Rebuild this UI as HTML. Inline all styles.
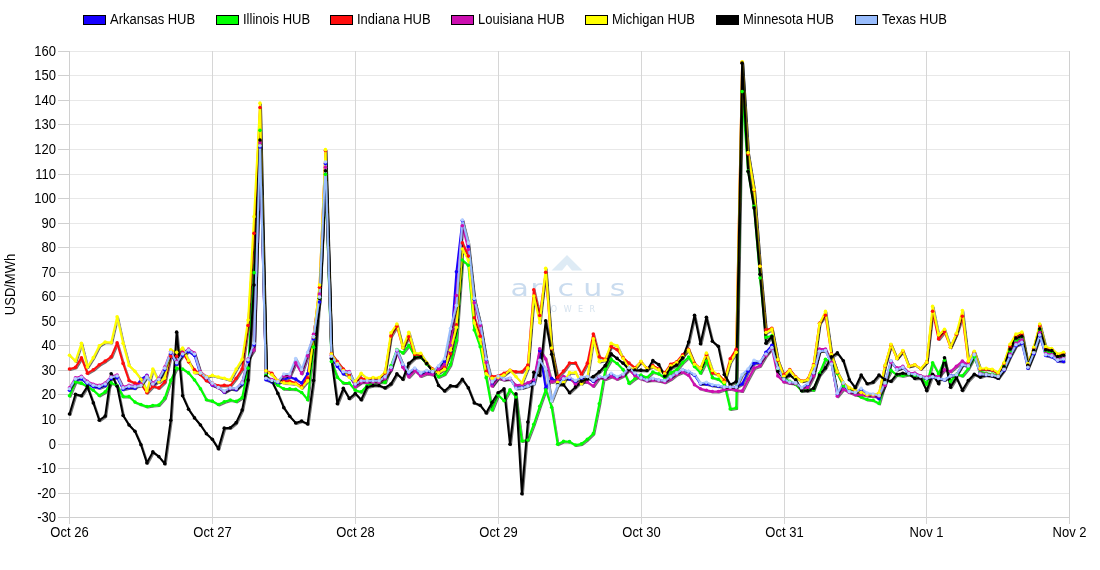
<!DOCTYPE html><html><head><meta charset="utf-8"><style>html,body{margin:0;padding:0;background:#fff;width:1100px;height:570px;overflow:hidden}svg{display:block}text{font-family:"Liberation Sans",Arial,sans-serif;font-size:13px;fill:#000}</style></head><body>
<svg width="1100" height="570" viewBox="0 0 1100 570">
<defs><filter id="sh" x="-5%" y="-5%" width="110%" height="110%"><feDropShadow dx="1" dy="1" stdDeviation="0.4" flood-color="#000" flood-opacity="0.55"/></filter></defs>
<rect width="1100" height="570" fill="#fff"/>
<line x1="70" y1="51.5" x2="1069" y2="51.5" stroke="#e8e8e8" stroke-width="1"/>
<line x1="58" y1="51.5" x2="69" y2="51.5" stroke="#d0d0d0" stroke-width="1"/>
<text transform="translate(56,56) scale(1,1.08)" text-anchor="end">160</text>
<line x1="70" y1="75.5" x2="1069" y2="75.5" stroke="#e8e8e8" stroke-width="1"/>
<line x1="58" y1="75.5" x2="69" y2="75.5" stroke="#d0d0d0" stroke-width="1"/>
<text transform="translate(56,80) scale(1,1.08)" text-anchor="end">150</text>
<line x1="70" y1="100.5" x2="1069" y2="100.5" stroke="#e8e8e8" stroke-width="1"/>
<line x1="58" y1="100.5" x2="69" y2="100.5" stroke="#d0d0d0" stroke-width="1"/>
<text transform="translate(56,105) scale(1,1.08)" text-anchor="end">140</text>
<line x1="70" y1="124.5" x2="1069" y2="124.5" stroke="#e8e8e8" stroke-width="1"/>
<line x1="58" y1="124.5" x2="69" y2="124.5" stroke="#d0d0d0" stroke-width="1"/>
<text transform="translate(56,129) scale(1,1.08)" text-anchor="end">130</text>
<line x1="70" y1="149.5" x2="1069" y2="149.5" stroke="#e8e8e8" stroke-width="1"/>
<line x1="58" y1="149.5" x2="69" y2="149.5" stroke="#d0d0d0" stroke-width="1"/>
<text transform="translate(56,154) scale(1,1.08)" text-anchor="end">120</text>
<line x1="70" y1="174.5" x2="1069" y2="174.5" stroke="#e8e8e8" stroke-width="1"/>
<line x1="58" y1="174.5" x2="69" y2="174.5" stroke="#d0d0d0" stroke-width="1"/>
<text transform="translate(56,179) scale(1,1.08)" text-anchor="end">110</text>
<line x1="70" y1="198.5" x2="1069" y2="198.5" stroke="#e8e8e8" stroke-width="1"/>
<line x1="58" y1="198.5" x2="69" y2="198.5" stroke="#d0d0d0" stroke-width="1"/>
<text transform="translate(56,203) scale(1,1.08)" text-anchor="end">100</text>
<line x1="70" y1="223.5" x2="1069" y2="223.5" stroke="#e8e8e8" stroke-width="1"/>
<line x1="58" y1="223.5" x2="69" y2="223.5" stroke="#d0d0d0" stroke-width="1"/>
<text transform="translate(56,228) scale(1,1.08)" text-anchor="end">90</text>
<line x1="70" y1="247.5" x2="1069" y2="247.5" stroke="#e8e8e8" stroke-width="1"/>
<line x1="58" y1="247.5" x2="69" y2="247.5" stroke="#d0d0d0" stroke-width="1"/>
<text transform="translate(56,252) scale(1,1.08)" text-anchor="end">80</text>
<line x1="70" y1="272.5" x2="1069" y2="272.5" stroke="#e8e8e8" stroke-width="1"/>
<line x1="58" y1="272.5" x2="69" y2="272.5" stroke="#d0d0d0" stroke-width="1"/>
<text transform="translate(56,277) scale(1,1.08)" text-anchor="end">70</text>
<line x1="70" y1="296.5" x2="1069" y2="296.5" stroke="#e8e8e8" stroke-width="1"/>
<line x1="58" y1="296.5" x2="69" y2="296.5" stroke="#d0d0d0" stroke-width="1"/>
<text transform="translate(56,301) scale(1,1.08)" text-anchor="end">60</text>
<line x1="70" y1="321.5" x2="1069" y2="321.5" stroke="#e8e8e8" stroke-width="1"/>
<line x1="58" y1="321.5" x2="69" y2="321.5" stroke="#d0d0d0" stroke-width="1"/>
<text transform="translate(56,326) scale(1,1.08)" text-anchor="end">50</text>
<line x1="70" y1="345.5" x2="1069" y2="345.5" stroke="#e8e8e8" stroke-width="1"/>
<line x1="58" y1="345.5" x2="69" y2="345.5" stroke="#d0d0d0" stroke-width="1"/>
<text transform="translate(56,350) scale(1,1.08)" text-anchor="end">40</text>
<line x1="70" y1="370.5" x2="1069" y2="370.5" stroke="#e8e8e8" stroke-width="1"/>
<line x1="58" y1="370.5" x2="69" y2="370.5" stroke="#d0d0d0" stroke-width="1"/>
<text transform="translate(56,375) scale(1,1.08)" text-anchor="end">30</text>
<line x1="70" y1="394.5" x2="1069" y2="394.5" stroke="#e8e8e8" stroke-width="1"/>
<line x1="58" y1="394.5" x2="69" y2="394.5" stroke="#d0d0d0" stroke-width="1"/>
<text transform="translate(56,399) scale(1,1.08)" text-anchor="end">20</text>
<line x1="70" y1="419.5" x2="1069" y2="419.5" stroke="#e8e8e8" stroke-width="1"/>
<line x1="58" y1="419.5" x2="69" y2="419.5" stroke="#d0d0d0" stroke-width="1"/>
<text transform="translate(56,424) scale(1,1.08)" text-anchor="end">10</text>
<line x1="70" y1="444.5" x2="1069" y2="444.5" stroke="#e8e8e8" stroke-width="1"/>
<line x1="58" y1="444.5" x2="69" y2="444.5" stroke="#d0d0d0" stroke-width="1"/>
<text transform="translate(56,449) scale(1,1.08)" text-anchor="end">0</text>
<line x1="70" y1="468.5" x2="1069" y2="468.5" stroke="#e8e8e8" stroke-width="1"/>
<line x1="58" y1="468.5" x2="69" y2="468.5" stroke="#d0d0d0" stroke-width="1"/>
<text transform="translate(56,473) scale(1,1.08)" text-anchor="end">-10</text>
<line x1="70" y1="493.5" x2="1069" y2="493.5" stroke="#e8e8e8" stroke-width="1"/>
<line x1="58" y1="493.5" x2="69" y2="493.5" stroke="#d0d0d0" stroke-width="1"/>
<text transform="translate(56,498) scale(1,1.08)" text-anchor="end">-20</text>
<line x1="70" y1="517.5" x2="1069" y2="517.5" stroke="#d0d0d0" stroke-width="1"/>
<line x1="58" y1="517.5" x2="69" y2="517.5" stroke="#d0d0d0" stroke-width="1"/>
<text transform="translate(56,522) scale(1,1.08)" text-anchor="end">-30</text>
<line x1="69.5" y1="51" x2="69.5" y2="524" stroke="#d0d0d0" stroke-width="1"/>
<text transform="translate(69.5,537) scale(1,1.08)" text-anchor="middle">Oct 26</text>
<line x1="212.5" y1="51" x2="212.5" y2="524" stroke="#d6d6d6" stroke-width="1"/>
<text transform="translate(212.5,537) scale(1,1.08)" text-anchor="middle">Oct 27</text>
<line x1="355.5" y1="51" x2="355.5" y2="524" stroke="#d6d6d6" stroke-width="1"/>
<text transform="translate(355.5,537) scale(1,1.08)" text-anchor="middle">Oct 28</text>
<line x1="498.5" y1="51" x2="498.5" y2="524" stroke="#d6d6d6" stroke-width="1"/>
<text transform="translate(498.5,537) scale(1,1.08)" text-anchor="middle">Oct 29</text>
<line x1="641.5" y1="51" x2="641.5" y2="524" stroke="#d6d6d6" stroke-width="1"/>
<text transform="translate(641.5,537) scale(1,1.08)" text-anchor="middle">Oct 30</text>
<line x1="784.5" y1="51" x2="784.5" y2="524" stroke="#d6d6d6" stroke-width="1"/>
<text transform="translate(784.5,537) scale(1,1.08)" text-anchor="middle">Oct 31</text>
<line x1="926.5" y1="51" x2="926.5" y2="524" stroke="#d6d6d6" stroke-width="1"/>
<text transform="translate(926.5,537) scale(1,1.08)" text-anchor="middle">Nov 1</text>
<line x1="1069.5" y1="51" x2="1069.5" y2="524" stroke="#d0d0d0" stroke-width="1"/>
<text transform="translate(1069.5,537) scale(1,1.08)" text-anchor="middle">Nov 2</text>
<text transform="translate(14.5,284.5) rotate(-90) scale(1,1.08)" text-anchor="middle">USD/MWh</text>
<rect x="83.5" y="15.5" width="22" height="9" fill="#1600ff" stroke="#000" stroke-width="1"/>
<text transform="translate(110,24) scale(1,1.08)">Arkansas HUB</text>
<rect x="216.5" y="15.5" width="22" height="9" fill="#00ff00" stroke="#000" stroke-width="1"/>
<text transform="translate(243,24) scale(1,1.08)">Illinois HUB</text>
<rect x="330.5" y="15.5" width="22" height="9" fill="#ff0d0d" stroke="#000" stroke-width="1"/>
<text transform="translate(357,24) scale(1,1.08)">Indiana HUB</text>
<rect x="451.5" y="15.5" width="22" height="9" fill="#cc0fb0" stroke="#000" stroke-width="1"/>
<text transform="translate(478,24) scale(1,1.08)">Louisiana HUB</text>
<rect x="585.5" y="15.5" width="22" height="9" fill="#ffff00" stroke="#000" stroke-width="1"/>
<text transform="translate(612,24) scale(1,1.08)">Michigan HUB</text>
<rect x="716.5" y="15.5" width="22" height="9" fill="#000000" stroke="#000" stroke-width="1"/>
<text transform="translate(743,24) scale(1,1.08)">Minnesota HUB</text>
<rect x="855.5" y="15.5" width="22" height="9" fill="#98bcfc" stroke="#000" stroke-width="1"/>
<text transform="translate(882,24) scale(1,1.08)">Texas HUB</text>
<g fill="#deebf5" stroke="none"><path d="M567 255 L582.5 270.5 L572 270.5 L567 264.5 L562 270.5 L551.5 270.5 Z"/></g>
<text transform="translate(519.6,296) scale(1.28,1)" text-anchor="middle" style="font-family:'DejaVu Sans',sans-serif;font-size:23.5px;fill:#cadcef">a</text>
<text transform="translate(536.5,296) scale(1.28,1)" text-anchor="middle" style="font-family:'DejaVu Sans',sans-serif;font-size:23.5px;fill:#cadcef">r</text>
<text transform="translate(565.8,296) scale(1.28,1)" text-anchor="middle" style="font-family:'DejaVu Sans',sans-serif;font-size:23.5px;fill:#cadcef">c</text>
<text transform="translate(592.7,296) scale(1.28,1)" text-anchor="middle" style="font-family:'DejaVu Sans',sans-serif;font-size:23.5px;fill:#cadcef">u</text>
<text transform="translate(617.7,296) scale(1.28,1)" text-anchor="middle" style="font-family:'DejaVu Sans',sans-serif;font-size:23.5px;fill:#cadcef">s</text>
<text x="541" y="311.5" text-anchor="middle" style="font-family:'DejaVu Sans',sans-serif;font-size:8px;fill:#d5e2ee">P</text>
<text x="553.8" y="311.5" text-anchor="middle" style="font-family:'DejaVu Sans',sans-serif;font-size:8px;fill:#d5e2ee">O</text>
<text x="567.6" y="311.5" text-anchor="middle" style="font-family:'DejaVu Sans',sans-serif;font-size:8px;fill:#d5e2ee">W</text>
<text x="580.5" y="311.5" text-anchor="middle" style="font-family:'DejaVu Sans',sans-serif;font-size:8px;fill:#d5e2ee">E</text>
<text x="592.4" y="311.5" text-anchor="middle" style="font-family:'DejaVu Sans',sans-serif;font-size:8px;fill:#d5e2ee">R</text>
<polyline filter="url(#sh)" points="69.50,390.19 75.45,380.40 81.40,378.82 87.36,383.87 93.31,386.71 99.26,387.82 105.21,385.45 111.17,378.82 117.12,377.56 123.07,389.40 129.02,387.82 134.98,388.29 140.93,379.21 146.88,375.27 152.83,385.45 158.79,380.71 164.74,369.66 170.69,353.87 176.64,364.13 182.60,355.45 188.55,351.50 194.50,355.45 200.45,374.40 206.40,379.14 212.36,385.26 218.31,387.46 224.26,392.28 230.21,388.77 236.17,389.65 242.12,383.95 248.07,361.58 254.02,345.00 259.98,147.02 265.93,379.75 271.88,381.94 277.83,383.25 283.79,380.00 289.74,376.93 295.69,379.12 301.64,383.07 307.60,373.86 313.55,338.89 319.50,302.05 325.45,163.43 331.40,358.07 337.36,366.40 343.31,373.86 349.26,376.05 355.21,385.26 361.17,381.58 367.12,381.58 373.07,381.58 379.02,381.58 384.98,377.63 390.93,368.95 396.88,350.79 402.83,365.00 408.79,372.90 414.74,368.95 420.69,373.69 426.64,371.32 432.60,372.90 438.55,366.71 444.50,361.71 450.45,351.71 456.40,271.84 462.36,220.53 468.31,246.84 474.26,299.30 480.21,323.86 486.17,359.82 492.12,385.06 498.07,377.69 504.02,379.27 509.98,378.48 515.93,387.63 521.88,387.63 527.83,385.58 533.79,382.90 539.74,350.79 545.69,388.29 551.64,378.42 557.60,382.11 563.55,378.95 569.50,378.95 575.45,381.32 581.40,378.16 587.36,377.37 593.31,381.32 599.26,377.06 605.21,377.84 611.17,374.21 617.12,377.37 623.07,374.69 629.02,368.37 634.98,374.69 640.93,376.32 646.88,380.32 652.83,378.74 658.79,380.32 664.74,381.11 670.69,377.16 676.64,373.21 682.60,370.06 688.55,371.64 694.50,375.27 700.45,383.95 706.40,383.95 712.36,385.53 718.31,386.32 724.26,387.11 730.21,387.11 736.17,387.11 742.12,383.95 748.07,371.32 754.02,363.42 759.98,362.63 765.93,352.37 771.88,345.27 777.83,368.95 783.79,379.87 789.74,382.58 795.69,383.21 801.64,387.95 807.60,384.48 813.55,373.42 819.50,351.00 825.45,350.37 831.40,363.63 837.36,394.74 843.31,384.48 849.26,392.06 855.21,393.16 861.17,390.00 867.12,393.95 873.07,394.74 879.02,398.69 884.98,383.69 890.93,361.11 896.88,369.48 902.83,367.42 908.79,373.74 914.74,374.53 920.69,376.73 926.64,378.50 932.60,376.89 938.55,378.52 944.50,379.83 950.45,375.75 956.40,374.93 962.36,364.82 968.31,366.29 974.26,355.03 980.21,374.45 986.17,375.26 992.12,375.75 998.07,378.20 1004.02,370.04 1009.98,356.72 1015.93,345.67 1021.88,343.22 1027.83,368.14 1033.79,353.65 1039.74,335.85 1045.69,355.49 1051.64,356.72 1057.60,361.02 1063.55,361.39" fill="none" stroke="#1600ff" stroke-width="2" stroke-linejoin="round" stroke-linecap="round"/>
<polyline filter="url(#sh)" points="69.50,395.79 75.45,381.89 81.40,383.16 87.36,386.32 93.31,390.26 99.26,395.47 105.21,391.84 111.17,382.84 117.12,385.53 123.07,396.58 129.02,396.58 134.98,402.11 140.93,404.47 146.88,406.53 152.83,405.58 158.79,404.95 164.74,398.16 170.69,380.40 176.64,368.16 182.60,368.95 188.55,372.90 194.50,380.00 200.45,388.69 206.40,399.74 212.36,401.09 218.31,404.47 224.26,401.80 230.21,399.96 236.17,401.40 242.12,397.63 248.07,368.16 254.02,272.67 259.98,130.35 265.93,375.18 271.88,380.44 277.83,385.26 283.79,388.77 289.74,388.89 295.69,389.18 301.64,392.46 307.60,399.74 313.55,347.15 319.50,298.33 325.45,174.34 331.40,361.58 337.36,377.37 343.31,383.07 349.26,383.07 355.21,390.22 361.17,391.85 367.12,385.53 373.07,383.16 379.02,382.37 384.98,382.37 390.93,365.79 396.88,349.47 402.83,352.98 408.79,345.40 414.74,355.79 420.69,357.11 426.64,364.21 432.60,369.74 438.55,376.84 444.50,374.12 450.45,364.61 456.40,340.53 462.36,260.00 468.31,265.26 474.26,330.00 480.21,346.67 486.17,377.63 492.12,409.87 498.07,394.87 504.02,400.66 509.98,389.74 515.93,396.98 521.88,441.05 527.83,440.00 533.79,424.21 539.74,406.32 545.69,389.74 551.64,407.37 557.60,444.21 563.55,441.33 569.50,441.63 575.45,445.03 581.40,443.90 587.36,439.34 593.31,433.64 599.26,403.73 605.21,369.67 611.17,359.41 617.12,363.49 623.07,369.67 629.02,383.27 634.98,378.57 640.93,375.08 646.88,377.54 652.83,372.01 658.79,373.85 664.74,377.64 670.69,372.90 676.64,369.74 682.60,362.63 688.55,357.11 694.50,366.58 700.45,372.90 706.40,361.06 712.36,377.64 718.31,379.21 724.26,383.95 730.21,409.01 736.17,407.91 742.12,91.58 748.07,171.05 754.02,206.31 759.98,277.99 765.93,337.36 771.88,335.78 777.83,369.74 783.79,378.16 789.74,381.32 795.69,384.48 801.64,390.79 807.60,389.21 813.55,390.00 819.50,373.42 825.45,359.21 831.40,362.37 837.36,373.42 843.31,386.06 849.26,388.42 855.21,393.95 861.17,397.11 867.12,399.48 873.07,400.27 879.02,403.43 884.98,382.90 890.93,370.27 896.88,375.00 902.83,375.71 908.79,374.61 914.74,375.31 920.69,376.24 926.64,384.09 932.60,362.71 938.55,373.85 944.50,360.26 950.45,381.61 956.40,374.36 962.36,375.69 968.31,368.33 974.26,357.09 980.21,371.81 986.17,373.30 992.12,374.12 998.07,374.93 1004.02,365.96 1009.98,351.57 1015.93,341.13 1021.88,338.67 1027.83,366.05 1033.79,351.32 1039.74,330.08 1045.69,351.57 1051.64,352.79 1057.60,357.09 1063.55,355.86" fill="none" stroke="#00ff00" stroke-width="2" stroke-linejoin="round" stroke-linecap="round"/>
<polyline filter="url(#sh)" points="69.50,368.95 75.45,367.37 81.40,357.90 87.36,373.21 93.31,369.74 99.26,364.69 105.21,361.06 111.17,356.79 117.12,342.90 123.07,363.42 129.02,380.48 134.98,383.16 140.93,383.95 146.88,392.64 152.83,386.32 158.79,387.90 164.74,382.06 170.69,356.32 176.64,356.32 182.60,352.37 188.55,361.85 194.50,369.74 200.45,374.48 206.40,380.79 212.36,383.07 218.31,385.70 224.26,385.26 230.21,385.70 236.17,378.25 242.12,369.04 248.07,325.53 254.02,233.33 259.98,107.54 265.93,370.82 271.88,373.28 277.83,381.32 283.79,381.32 289.74,381.32 295.69,383.07 301.64,386.58 307.60,377.81 313.55,336.44 319.50,287.32 325.45,150.53 331.40,353.63 337.36,361.58 343.31,369.04 349.26,374.74 355.21,382.76 361.17,378.42 367.12,379.21 373.07,378.42 379.02,378.42 384.98,372.90 390.93,335.88 396.88,326.23 402.83,347.72 408.79,336.75 414.74,354.74 420.69,354.74 426.64,363.42 432.60,368.95 438.55,372.11 444.50,367.15 450.45,353.82 456.40,324.74 462.36,242.89 468.31,256.05 474.26,317.72 480.21,336.14 486.17,371.23 492.12,376.59 498.07,375.79 504.02,373.42 509.98,370.27 515.93,371.84 521.88,371.84 527.83,365.00 533.79,289.82 539.74,315.53 545.69,272.28 551.64,348.72 557.60,377.24 563.55,371.05 569.50,363.03 575.45,363.03 581.40,374.21 587.36,363.16 593.31,333.95 599.26,356.84 605.21,359.21 611.17,346.58 617.12,349.74 623.07,357.63 629.02,363.11 634.98,367.71 640.93,361.70 646.88,368.33 652.83,365.56 658.79,368.94 664.74,372.90 670.69,364.21 676.64,361.85 682.60,354.74 688.55,349.21 694.50,363.42 700.45,368.16 706.40,354.74 712.36,372.90 718.31,374.48 724.26,380.79 730.21,358.69 736.17,349.21 742.12,62.37 748.07,153.95 754.02,190.00 759.98,266.31 765.93,329.86 771.88,328.28 777.83,360.27 783.79,374.74 789.74,369.48 795.69,376.90 801.64,381.00 807.60,379.42 813.55,364.74 819.50,323.21 825.45,315.31 831.40,354.16 837.36,372.16 843.31,383.21 849.26,387.95 855.21,390.48 861.17,392.69 867.12,395.21 873.07,395.21 879.02,393.64 884.98,365.84 890.93,344.69 896.88,358.42 902.83,351.00 908.79,366.32 914.74,364.74 920.69,368.69 926.64,362.13 932.60,311.31 938.55,339.05 944.50,331.70 950.45,347.20 956.40,334.15 962.36,316.21 968.31,361.88 974.26,352.10 980.21,369.23 986.17,369.23 992.12,370.04 998.07,373.30 1004.02,363.52 1009.98,346.65 1015.93,336.83 1021.88,334.38 1027.83,364.46 1033.79,348.13 1039.74,325.78 1045.69,348.50 1051.64,349.36 1057.60,354.88 1063.55,353.41" fill="none" stroke="#ff0d0d" stroke-width="2" stroke-linejoin="round" stroke-linecap="round"/>
<polyline filter="url(#sh)" points="69.50,387.69 75.45,377.90 81.40,376.32 87.36,381.37 93.31,384.21 99.26,385.32 105.21,382.95 111.17,376.32 117.12,375.06 123.07,386.90 129.02,385.32 134.98,385.79 140.93,384.53 146.88,375.85 152.83,382.95 158.79,378.21 164.74,367.16 170.69,351.37 176.64,361.63 182.60,352.95 188.55,349.00 194.50,352.95 200.45,371.90 206.40,376.64 212.36,384.82 218.31,387.63 224.26,391.84 230.21,388.33 236.17,388.77 242.12,382.19 248.07,358.95 254.02,350.00 259.98,142.63 265.93,377.25 271.88,379.44 277.83,380.75 283.79,376.05 289.74,376.05 295.69,362.89 301.64,373.42 307.60,355.88 313.55,334.33 319.50,294.00 325.45,167.19 331.40,355.32 337.36,363.21 343.31,370.67 349.26,371.54 355.21,386.71 361.17,382.37 367.12,382.37 373.07,382.37 379.02,382.37 384.98,378.42 390.93,369.74 396.88,350.79 402.83,367.37 408.79,376.84 414.74,370.53 420.69,376.05 426.64,373.69 432.60,374.48 438.55,368.95 444.50,364.61 450.45,345.22 456.40,295.48 462.36,225.79 468.31,249.47 474.26,302.81 480.21,325.61 486.17,362.46 492.12,386.05 498.07,378.16 504.02,379.74 509.98,378.95 515.93,385.27 521.88,384.48 527.83,382.90 533.79,379.74 539.74,348.82 545.69,359.08 551.64,381.98 557.60,380.53 563.55,376.58 569.50,377.37 575.45,384.48 581.40,382.11 587.36,382.11 593.31,386.06 599.26,377.37 605.21,378.95 611.17,376.58 617.12,378.95 623.07,375.79 629.02,369.48 634.98,375.79 640.93,378.69 646.88,380.79 652.83,380.00 658.79,380.79 664.74,382.37 670.69,379.21 676.64,374.48 682.60,372.11 688.55,375.27 694.50,384.74 700.45,388.69 706.40,390.27 712.36,391.53 718.31,391.53 724.26,389.48 730.21,388.69 736.17,390.27 742.12,391.06 748.07,379.21 754.02,368.16 759.98,365.79 765.93,355.53 771.88,348.42 777.83,376.06 783.79,381.85 789.74,382.90 795.69,383.69 801.64,388.42 807.60,387.64 813.55,375.79 819.50,348.95 825.45,348.95 831.40,362.37 837.36,396.32 843.31,389.21 849.26,392.37 855.21,394.74 861.17,394.74 867.12,395.53 873.07,396.32 879.02,396.32 884.98,385.27 890.93,362.37 896.88,367.90 902.83,366.37 908.79,372.68 914.74,372.99 920.69,375.72 926.64,377.14 932.60,374.87 938.55,376.71 944.50,369.76 950.45,371.40 956.40,366.19 962.36,360.98 968.31,365.06 974.26,353.42 980.21,373.30 986.17,374.12 992.12,374.93 998.07,376.57 1004.02,369.23 1009.98,354.02 1015.93,342.97 1021.88,339.90 1027.83,366.54 1033.79,352.18 1039.74,332.54 1045.69,353.41 1051.64,354.63 1057.60,358.93 1063.55,357.70" fill="none" stroke="#cc0fb0" stroke-width="2" stroke-linejoin="round" stroke-linecap="round"/>
<polyline filter="url(#sh)" points="69.50,355.21 75.45,361.06 81.40,343.21 87.36,367.06 93.31,357.58 99.26,345.74 105.21,341.95 111.17,342.58 117.12,316.84 123.07,343.37 129.02,365.48 134.98,371.32 140.93,379.21 146.88,391.06 152.83,368.95 158.79,382.06 164.74,378.11 170.69,349.69 176.64,352.37 182.60,347.95 188.55,360.58 194.50,372.58 200.45,372.90 206.40,376.85 212.36,375.38 218.31,376.93 224.26,378.25 230.21,380.00 236.17,369.04 242.12,359.39 248.07,320.00 254.02,216.67 259.98,103.16 265.93,370.79 271.88,374.74 277.83,380.88 283.79,382.89 289.74,383.25 295.69,383.95 301.64,387.89 307.60,380.88 313.55,337.02 319.50,285.00 325.45,149.65 331.40,353.95 337.36,363.45 343.31,370.53 349.26,377.33 355.21,381.23 361.17,373.21 367.12,378.42 373.07,377.63 379.02,377.63 384.98,372.11 390.93,332.81 396.88,324.04 402.83,347.72 408.79,332.37 414.74,352.98 420.69,353.42 426.64,362.63 432.60,369.74 438.55,372.90 444.50,369.21 450.45,350.13 456.40,327.37 462.36,248.95 468.31,260.00 474.26,322.98 480.21,339.65 486.17,373.86 492.12,378.31 498.07,377.37 504.02,375.00 509.98,370.27 515.93,376.58 521.88,382.90 527.83,368.16 533.79,295.96 539.74,322.63 545.69,268.33 551.64,348.03 557.60,382.37 563.55,382.37 569.50,372.63 575.45,372.50 581.40,383.69 587.36,377.37 593.31,338.68 599.26,361.58 605.21,360.00 611.17,343.42 617.12,345.79 623.07,358.42 629.02,367.90 634.98,368.63 640.93,361.27 646.88,368.63 652.83,366.79 658.79,369.86 664.74,373.69 670.69,365.79 676.64,362.63 682.60,356.32 688.55,350.00 694.50,364.21 700.45,368.16 706.40,353.16 712.36,370.53 718.31,375.27 724.26,382.37 730.21,361.85 736.17,352.37 742.12,61.84 748.07,152.63 754.02,189.47 759.98,266.31 765.93,332.62 771.88,329.07 777.83,359.48 783.79,376.32 789.74,370.27 795.69,377.37 801.64,381.32 807.60,379.74 813.55,365.53 819.50,323.68 825.45,311.38 831.40,354.48 837.36,371.85 843.31,382.90 849.26,387.64 855.21,390.00 861.17,392.37 867.12,394.74 873.07,394.74 879.02,393.16 884.98,365.53 890.93,344.21 896.88,358.42 902.83,350.53 908.79,366.32 914.74,364.74 920.69,368.55 926.64,362.13 932.60,306.42 938.55,334.97 944.50,329.26 950.45,347.20 956.40,333.34 962.36,310.50 968.31,361.07 974.26,351.28 980.21,368.41 986.17,368.41 992.12,369.23 998.07,372.49 1004.02,362.70 1009.98,344.20 1015.93,334.13 1021.88,332.17 1027.83,363.60 1033.79,347.27 1039.74,323.94 1045.69,346.65 1051.64,348.50 1057.60,354.02 1063.55,352.18" fill="none" stroke="#ffff00" stroke-width="2" stroke-linejoin="round" stroke-linecap="round"/>
<polyline filter="url(#sh)" points="69.50,413.95 75.45,394.21 81.40,395.79 87.36,386.63 93.31,402.90 99.26,420.27 105.21,416.00 111.17,373.69 117.12,386.32 123.07,415.53 129.02,425.00 134.98,431.32 140.93,444.74 146.88,462.90 152.83,451.85 158.79,456.58 164.74,463.69 170.69,420.27 176.64,332.16 182.60,395.79 188.55,409.21 194.50,417.90 200.45,425.00 206.40,433.69 212.36,439.37 218.31,448.69 224.26,428.16 230.21,427.69 236.17,422.63 242.12,410.00 248.07,380.00 254.02,285.00 259.98,140.00 265.93,376.49 271.88,381.32 277.83,393.42 283.79,407.63 289.74,416.32 295.69,422.95 301.64,421.05 307.60,423.90 313.55,380.44 319.50,298.33 325.45,170.70 331.40,358.54 337.36,403.69 343.31,388.33 349.26,398.42 355.21,393.51 361.17,399.74 367.12,387.11 373.07,385.53 379.02,385.53 384.98,387.90 390.93,383.95 396.88,373.69 402.83,379.21 408.79,363.42 414.74,357.90 420.69,357.11 426.64,363.42 432.60,371.32 438.55,385.53 444.50,391.06 450.45,385.84 456.40,386.32 462.36,379.21 468.31,387.90 474.26,402.90 480.21,405.27 486.17,412.90 492.12,402.24 498.07,392.76 504.02,388.84 509.98,444.21 515.93,393.68 521.88,493.68 527.83,422.11 533.79,372.37 539.74,375.53 545.69,320.74 551.64,354.21 557.60,384.74 563.55,384.74 569.50,392.64 575.45,387.11 581.40,381.32 587.36,378.95 593.31,376.58 599.26,371.84 605.21,365.53 611.17,353.69 617.12,358.42 623.07,363.16 629.02,369.48 634.98,370.17 640.93,370.17 646.88,370.48 652.83,360.65 658.79,364.64 664.74,376.31 670.69,368.16 676.64,365.00 682.60,357.90 688.55,342.11 694.50,315.26 700.45,343.69 706.40,317.32 712.36,341.32 718.31,346.37 724.26,374.48 730.21,384.74 736.17,381.58 742.12,63.16 748.07,171.58 754.02,207.89 759.98,274.20 765.93,343.28 771.88,336.44 777.83,371.32 783.79,378.69 789.74,375.00 795.69,379.74 801.64,390.79 807.60,390.79 813.55,388.42 819.50,375.00 825.45,367.90 831.40,356.84 837.36,352.90 843.31,360.79 849.26,379.74 855.21,387.64 861.17,375.00 867.12,383.69 873.07,382.11 879.02,375.00 884.98,379.74 890.93,381.32 896.88,374.21 902.83,373.30 908.79,374.00 914.74,378.52 920.69,378.00 926.64,390.58 932.60,374.36 938.55,383.61 944.50,357.81 950.45,387.30 956.40,377.47 962.36,390.37 968.31,380.54 974.26,374.26 980.21,377.12 986.17,374.93 992.12,375.75 998.07,378.20 1004.02,366.78 1009.98,349.11 1015.93,338.06 1021.88,336.22 1027.83,365.32 1033.79,350.34 1039.74,328.85 1045.69,349.72 1051.64,350.58 1057.60,356.48 1063.55,355.25" fill="none" stroke="#000000" stroke-width="2" stroke-linejoin="round" stroke-linecap="round"/>
<polyline filter="url(#sh)" points="69.50,388.69 75.45,378.90 81.40,377.32 87.36,382.37 93.31,385.21 99.26,386.32 105.21,383.95 111.17,377.32 117.12,376.06 123.07,387.90 129.02,386.32 134.98,386.79 140.93,385.53 146.88,376.85 152.83,383.95 158.79,379.21 164.74,368.16 170.69,352.37 176.64,362.63 182.60,353.95 188.55,350.00 194.50,353.95 200.45,372.90 206.40,377.64 212.36,383.16 218.31,387.46 224.26,390.96 230.21,387.89 236.17,388.33 242.12,382.89 248.07,359.82 254.02,343.33 259.98,145.79 265.93,378.25 271.88,380.44 277.83,381.75 283.79,374.08 289.74,373.86 295.69,358.51 301.64,369.47 307.60,352.40 313.55,336.44 319.50,297.14 325.45,161.93 331.40,356.32 337.36,364.21 343.31,371.67 349.26,372.54 355.21,383.99 361.17,380.79 367.12,380.79 373.07,380.79 379.02,380.79 384.98,376.84 390.93,367.37 396.88,349.96 402.83,364.21 408.79,372.11 414.74,368.16 420.69,372.90 426.64,370.53 432.60,371.67 438.55,365.88 444.50,358.73 450.45,328.47 456.40,305.44 462.36,220.00 468.31,242.89 474.26,298.42 480.21,322.98 486.17,358.95 492.12,381.87 498.07,376.05 504.02,378.95 509.98,378.16 515.93,388.42 521.88,388.11 527.83,386.06 533.79,383.69 539.74,360.27 545.69,368.95 551.64,400.93 557.60,385.53 563.55,378.82 569.50,377.37 575.45,380.53 581.40,377.37 587.36,376.58 593.31,380.53 599.26,376.58 605.21,377.37 611.17,373.42 617.12,376.58 623.07,374.21 629.02,367.71 634.98,372.93 640.93,377.84 646.88,380.00 652.83,378.42 658.79,380.00 664.74,380.79 670.69,376.85 676.64,372.90 682.60,369.74 688.55,371.32 694.50,374.48 700.45,383.16 706.40,382.37 712.36,384.74 718.31,385.53 724.26,387.11 730.21,387.11 736.17,387.11 742.12,374.48 748.07,368.95 754.02,360.27 759.98,361.85 765.93,353.95 771.88,347.63 777.83,368.16 783.79,379.08 789.74,382.11 795.69,382.90 801.64,387.64 807.60,383.69 813.55,372.63 819.50,351.32 825.45,350.53 831.40,363.95 837.36,393.16 843.31,382.90 849.26,391.58 855.21,392.37 861.17,388.42 867.12,393.16 873.07,393.95 879.02,395.53 884.98,382.90 890.93,360.79 896.88,369.48 902.83,367.37 908.79,373.60 914.74,374.31 920.69,376.46 926.64,378.35 932.60,376.71 938.55,378.45 944.50,379.57 950.45,376.00 956.40,374.67 962.36,364.76 968.31,365.88 974.26,354.64 980.21,373.95 986.17,374.67 992.12,375.14 998.07,376.40 1004.02,369.23 1009.98,355.86 1015.93,344.81 1021.88,342.36 1027.83,367.28 1033.79,352.79 1039.74,334.99 1045.69,354.63 1051.64,355.86 1057.60,360.16 1063.55,358.93" fill="none" stroke="#98bcfc" stroke-width="2" stroke-linejoin="round" stroke-linecap="round"/>
<g fill="#1600ff"><circle cx="69.50" cy="390.19" r="1.8"/><circle cx="75.45" cy="380.40" r="1.8"/><circle cx="81.40" cy="378.82" r="1.8"/><circle cx="87.36" cy="383.87" r="1.8"/><circle cx="93.31" cy="386.71" r="1.8"/><circle cx="99.26" cy="387.82" r="1.8"/><circle cx="105.21" cy="385.45" r="1.8"/><circle cx="111.17" cy="378.82" r="1.8"/><circle cx="117.12" cy="377.56" r="1.8"/><circle cx="123.07" cy="389.40" r="1.8"/><circle cx="129.02" cy="387.82" r="1.8"/><circle cx="134.98" cy="388.29" r="1.8"/><circle cx="140.93" cy="379.21" r="1.8"/><circle cx="146.88" cy="375.27" r="1.8"/><circle cx="152.83" cy="385.45" r="1.8"/><circle cx="158.79" cy="380.71" r="1.8"/><circle cx="164.74" cy="369.66" r="1.8"/><circle cx="170.69" cy="353.87" r="1.8"/><circle cx="176.64" cy="364.13" r="1.8"/><circle cx="182.60" cy="355.45" r="1.8"/><circle cx="188.55" cy="351.50" r="1.8"/><circle cx="194.50" cy="355.45" r="1.8"/><circle cx="200.45" cy="374.40" r="1.8"/><circle cx="206.40" cy="379.14" r="1.8"/><circle cx="212.36" cy="385.26" r="1.8"/><circle cx="218.31" cy="387.46" r="1.8"/><circle cx="224.26" cy="392.28" r="1.8"/><circle cx="230.21" cy="388.77" r="1.8"/><circle cx="236.17" cy="389.65" r="1.8"/><circle cx="242.12" cy="383.95" r="1.8"/><circle cx="248.07" cy="361.58" r="1.8"/><circle cx="254.02" cy="345.00" r="1.8"/><circle cx="259.98" cy="147.02" r="1.8"/><circle cx="265.93" cy="379.75" r="1.8"/><circle cx="271.88" cy="381.94" r="1.8"/><circle cx="277.83" cy="383.25" r="1.8"/><circle cx="283.79" cy="380.00" r="1.8"/><circle cx="289.74" cy="376.93" r="1.8"/><circle cx="295.69" cy="379.12" r="1.8"/><circle cx="301.64" cy="383.07" r="1.8"/><circle cx="307.60" cy="373.86" r="1.8"/><circle cx="313.55" cy="338.89" r="1.8"/><circle cx="319.50" cy="302.05" r="1.8"/><circle cx="325.45" cy="163.43" r="1.8"/><circle cx="331.40" cy="358.07" r="1.8"/><circle cx="337.36" cy="366.40" r="1.8"/><circle cx="343.31" cy="373.86" r="1.8"/><circle cx="349.26" cy="376.05" r="1.8"/><circle cx="355.21" cy="385.26" r="1.8"/><circle cx="361.17" cy="381.58" r="1.8"/><circle cx="367.12" cy="381.58" r="1.8"/><circle cx="373.07" cy="381.58" r="1.8"/><circle cx="379.02" cy="381.58" r="1.8"/><circle cx="384.98" cy="377.63" r="1.8"/><circle cx="390.93" cy="368.95" r="1.8"/><circle cx="396.88" cy="350.79" r="1.8"/><circle cx="402.83" cy="365.00" r="1.8"/><circle cx="408.79" cy="372.90" r="1.8"/><circle cx="414.74" cy="368.95" r="1.8"/><circle cx="420.69" cy="373.69" r="1.8"/><circle cx="426.64" cy="371.32" r="1.8"/><circle cx="432.60" cy="372.90" r="1.8"/><circle cx="438.55" cy="366.71" r="1.8"/><circle cx="444.50" cy="361.71" r="1.8"/><circle cx="450.45" cy="351.71" r="1.8"/><circle cx="456.40" cy="271.84" r="1.8"/><circle cx="462.36" cy="220.53" r="1.8"/><circle cx="468.31" cy="246.84" r="1.8"/><circle cx="474.26" cy="299.30" r="1.8"/><circle cx="480.21" cy="323.86" r="1.8"/><circle cx="486.17" cy="359.82" r="1.8"/><circle cx="492.12" cy="385.06" r="1.8"/><circle cx="498.07" cy="377.69" r="1.8"/><circle cx="504.02" cy="379.27" r="1.8"/><circle cx="509.98" cy="378.48" r="1.8"/><circle cx="515.93" cy="387.63" r="1.8"/><circle cx="521.88" cy="387.63" r="1.8"/><circle cx="527.83" cy="385.58" r="1.8"/><circle cx="533.79" cy="382.90" r="1.8"/><circle cx="539.74" cy="350.79" r="1.8"/><circle cx="545.69" cy="388.29" r="1.8"/><circle cx="551.64" cy="378.42" r="1.8"/><circle cx="557.60" cy="382.11" r="1.8"/><circle cx="563.55" cy="378.95" r="1.8"/><circle cx="569.50" cy="378.95" r="1.8"/><circle cx="575.45" cy="381.32" r="1.8"/><circle cx="581.40" cy="378.16" r="1.8"/><circle cx="587.36" cy="377.37" r="1.8"/><circle cx="593.31" cy="381.32" r="1.8"/><circle cx="599.26" cy="377.06" r="1.8"/><circle cx="605.21" cy="377.84" r="1.8"/><circle cx="611.17" cy="374.21" r="1.8"/><circle cx="617.12" cy="377.37" r="1.8"/><circle cx="623.07" cy="374.69" r="1.8"/><circle cx="629.02" cy="368.37" r="1.8"/><circle cx="634.98" cy="374.69" r="1.8"/><circle cx="640.93" cy="376.32" r="1.8"/><circle cx="646.88" cy="380.32" r="1.8"/><circle cx="652.83" cy="378.74" r="1.8"/><circle cx="658.79" cy="380.32" r="1.8"/><circle cx="664.74" cy="381.11" r="1.8"/><circle cx="670.69" cy="377.16" r="1.8"/><circle cx="676.64" cy="373.21" r="1.8"/><circle cx="682.60" cy="370.06" r="1.8"/><circle cx="688.55" cy="371.64" r="1.8"/><circle cx="694.50" cy="375.27" r="1.8"/><circle cx="700.45" cy="383.95" r="1.8"/><circle cx="706.40" cy="383.95" r="1.8"/><circle cx="712.36" cy="385.53" r="1.8"/><circle cx="718.31" cy="386.32" r="1.8"/><circle cx="724.26" cy="387.11" r="1.8"/><circle cx="730.21" cy="387.11" r="1.8"/><circle cx="736.17" cy="387.11" r="1.8"/><circle cx="742.12" cy="383.95" r="1.8"/><circle cx="748.07" cy="371.32" r="1.8"/><circle cx="754.02" cy="363.42" r="1.8"/><circle cx="759.98" cy="362.63" r="1.8"/><circle cx="765.93" cy="352.37" r="1.8"/><circle cx="771.88" cy="345.27" r="1.8"/><circle cx="777.83" cy="368.95" r="1.8"/><circle cx="783.79" cy="379.87" r="1.8"/><circle cx="789.74" cy="382.58" r="1.8"/><circle cx="795.69" cy="383.21" r="1.8"/><circle cx="801.64" cy="387.95" r="1.8"/><circle cx="807.60" cy="384.48" r="1.8"/><circle cx="813.55" cy="373.42" r="1.8"/><circle cx="819.50" cy="351.00" r="1.8"/><circle cx="825.45" cy="350.37" r="1.8"/><circle cx="831.40" cy="363.63" r="1.8"/><circle cx="837.36" cy="394.74" r="1.8"/><circle cx="843.31" cy="384.48" r="1.8"/><circle cx="849.26" cy="392.06" r="1.8"/><circle cx="855.21" cy="393.16" r="1.8"/><circle cx="861.17" cy="390.00" r="1.8"/><circle cx="867.12" cy="393.95" r="1.8"/><circle cx="873.07" cy="394.74" r="1.8"/><circle cx="879.02" cy="398.69" r="1.8"/><circle cx="884.98" cy="383.69" r="1.8"/><circle cx="890.93" cy="361.11" r="1.8"/><circle cx="896.88" cy="369.48" r="1.8"/><circle cx="902.83" cy="367.42" r="1.8"/><circle cx="908.79" cy="373.74" r="1.8"/><circle cx="914.74" cy="374.53" r="1.8"/><circle cx="920.69" cy="376.73" r="1.8"/><circle cx="926.64" cy="378.50" r="1.8"/><circle cx="932.60" cy="376.89" r="1.8"/><circle cx="938.55" cy="378.52" r="1.8"/><circle cx="944.50" cy="379.83" r="1.8"/><circle cx="950.45" cy="375.75" r="1.8"/><circle cx="956.40" cy="374.93" r="1.8"/><circle cx="962.36" cy="364.82" r="1.8"/><circle cx="968.31" cy="366.29" r="1.8"/><circle cx="974.26" cy="355.03" r="1.8"/><circle cx="980.21" cy="374.45" r="1.8"/><circle cx="986.17" cy="375.26" r="1.8"/><circle cx="992.12" cy="375.75" r="1.8"/><circle cx="998.07" cy="378.20" r="1.8"/><circle cx="1004.02" cy="370.04" r="1.8"/><circle cx="1009.98" cy="356.72" r="1.8"/><circle cx="1015.93" cy="345.67" r="1.8"/><circle cx="1021.88" cy="343.22" r="1.8"/><circle cx="1027.83" cy="368.14" r="1.8"/><circle cx="1033.79" cy="353.65" r="1.8"/><circle cx="1039.74" cy="335.85" r="1.8"/><circle cx="1045.69" cy="355.49" r="1.8"/><circle cx="1051.64" cy="356.72" r="1.8"/><circle cx="1057.60" cy="361.02" r="1.8"/><circle cx="1063.55" cy="361.39" r="1.8"/></g>
<g fill="#00ff00"><circle cx="69.50" cy="395.79" r="1.8"/><circle cx="75.45" cy="381.89" r="1.8"/><circle cx="81.40" cy="383.16" r="1.8"/><circle cx="87.36" cy="386.32" r="1.8"/><circle cx="93.31" cy="390.26" r="1.8"/><circle cx="99.26" cy="395.47" r="1.8"/><circle cx="105.21" cy="391.84" r="1.8"/><circle cx="111.17" cy="382.84" r="1.8"/><circle cx="117.12" cy="385.53" r="1.8"/><circle cx="123.07" cy="396.58" r="1.8"/><circle cx="129.02" cy="396.58" r="1.8"/><circle cx="134.98" cy="402.11" r="1.8"/><circle cx="140.93" cy="404.47" r="1.8"/><circle cx="146.88" cy="406.53" r="1.8"/><circle cx="152.83" cy="405.58" r="1.8"/><circle cx="158.79" cy="404.95" r="1.8"/><circle cx="164.74" cy="398.16" r="1.8"/><circle cx="170.69" cy="380.40" r="1.8"/><circle cx="176.64" cy="368.16" r="1.8"/><circle cx="182.60" cy="368.95" r="1.8"/><circle cx="188.55" cy="372.90" r="1.8"/><circle cx="194.50" cy="380.00" r="1.8"/><circle cx="200.45" cy="388.69" r="1.8"/><circle cx="206.40" cy="399.74" r="1.8"/><circle cx="212.36" cy="401.09" r="1.8"/><circle cx="218.31" cy="404.47" r="1.8"/><circle cx="224.26" cy="401.80" r="1.8"/><circle cx="230.21" cy="399.96" r="1.8"/><circle cx="236.17" cy="401.40" r="1.8"/><circle cx="242.12" cy="397.63" r="1.8"/><circle cx="248.07" cy="368.16" r="1.8"/><circle cx="254.02" cy="272.67" r="1.8"/><circle cx="259.98" cy="130.35" r="1.8"/><circle cx="265.93" cy="375.18" r="1.8"/><circle cx="271.88" cy="380.44" r="1.8"/><circle cx="277.83" cy="385.26" r="1.8"/><circle cx="283.79" cy="388.77" r="1.8"/><circle cx="289.74" cy="388.89" r="1.8"/><circle cx="295.69" cy="389.18" r="1.8"/><circle cx="301.64" cy="392.46" r="1.8"/><circle cx="307.60" cy="399.74" r="1.8"/><circle cx="313.55" cy="347.15" r="1.8"/><circle cx="319.50" cy="298.33" r="1.8"/><circle cx="325.45" cy="174.34" r="1.8"/><circle cx="331.40" cy="361.58" r="1.8"/><circle cx="337.36" cy="377.37" r="1.8"/><circle cx="343.31" cy="383.07" r="1.8"/><circle cx="349.26" cy="383.07" r="1.8"/><circle cx="355.21" cy="390.22" r="1.8"/><circle cx="361.17" cy="391.85" r="1.8"/><circle cx="367.12" cy="385.53" r="1.8"/><circle cx="373.07" cy="383.16" r="1.8"/><circle cx="379.02" cy="382.37" r="1.8"/><circle cx="384.98" cy="382.37" r="1.8"/><circle cx="390.93" cy="365.79" r="1.8"/><circle cx="396.88" cy="349.47" r="1.8"/><circle cx="402.83" cy="352.98" r="1.8"/><circle cx="408.79" cy="345.40" r="1.8"/><circle cx="414.74" cy="355.79" r="1.8"/><circle cx="420.69" cy="357.11" r="1.8"/><circle cx="426.64" cy="364.21" r="1.8"/><circle cx="432.60" cy="369.74" r="1.8"/><circle cx="438.55" cy="376.84" r="1.8"/><circle cx="444.50" cy="374.12" r="1.8"/><circle cx="450.45" cy="364.61" r="1.8"/><circle cx="456.40" cy="340.53" r="1.8"/><circle cx="462.36" cy="260.00" r="1.8"/><circle cx="468.31" cy="265.26" r="1.8"/><circle cx="474.26" cy="330.00" r="1.8"/><circle cx="480.21" cy="346.67" r="1.8"/><circle cx="486.17" cy="377.63" r="1.8"/><circle cx="492.12" cy="409.87" r="1.8"/><circle cx="498.07" cy="394.87" r="1.8"/><circle cx="504.02" cy="400.66" r="1.8"/><circle cx="509.98" cy="389.74" r="1.8"/><circle cx="515.93" cy="396.98" r="1.8"/><circle cx="521.88" cy="441.05" r="1.8"/><circle cx="527.83" cy="440.00" r="1.8"/><circle cx="533.79" cy="424.21" r="1.8"/><circle cx="539.74" cy="406.32" r="1.8"/><circle cx="545.69" cy="389.74" r="1.8"/><circle cx="551.64" cy="407.37" r="1.8"/><circle cx="557.60" cy="444.21" r="1.8"/><circle cx="563.55" cy="441.33" r="1.8"/><circle cx="569.50" cy="441.63" r="1.8"/><circle cx="575.45" cy="445.03" r="1.8"/><circle cx="581.40" cy="443.90" r="1.8"/><circle cx="587.36" cy="439.34" r="1.8"/><circle cx="593.31" cy="433.64" r="1.8"/><circle cx="599.26" cy="403.73" r="1.8"/><circle cx="605.21" cy="369.67" r="1.8"/><circle cx="611.17" cy="359.41" r="1.8"/><circle cx="617.12" cy="363.49" r="1.8"/><circle cx="623.07" cy="369.67" r="1.8"/><circle cx="629.02" cy="383.27" r="1.8"/><circle cx="634.98" cy="378.57" r="1.8"/><circle cx="640.93" cy="375.08" r="1.8"/><circle cx="646.88" cy="377.54" r="1.8"/><circle cx="652.83" cy="372.01" r="1.8"/><circle cx="658.79" cy="373.85" r="1.8"/><circle cx="664.74" cy="377.64" r="1.8"/><circle cx="670.69" cy="372.90" r="1.8"/><circle cx="676.64" cy="369.74" r="1.8"/><circle cx="682.60" cy="362.63" r="1.8"/><circle cx="688.55" cy="357.11" r="1.8"/><circle cx="694.50" cy="366.58" r="1.8"/><circle cx="700.45" cy="372.90" r="1.8"/><circle cx="706.40" cy="361.06" r="1.8"/><circle cx="712.36" cy="377.64" r="1.8"/><circle cx="718.31" cy="379.21" r="1.8"/><circle cx="724.26" cy="383.95" r="1.8"/><circle cx="730.21" cy="409.01" r="1.8"/><circle cx="736.17" cy="407.91" r="1.8"/><circle cx="742.12" cy="91.58" r="1.8"/><circle cx="748.07" cy="171.05" r="1.8"/><circle cx="754.02" cy="206.31" r="1.8"/><circle cx="759.98" cy="277.99" r="1.8"/><circle cx="765.93" cy="337.36" r="1.8"/><circle cx="771.88" cy="335.78" r="1.8"/><circle cx="777.83" cy="369.74" r="1.8"/><circle cx="783.79" cy="378.16" r="1.8"/><circle cx="789.74" cy="381.32" r="1.8"/><circle cx="795.69" cy="384.48" r="1.8"/><circle cx="801.64" cy="390.79" r="1.8"/><circle cx="807.60" cy="389.21" r="1.8"/><circle cx="813.55" cy="390.00" r="1.8"/><circle cx="819.50" cy="373.42" r="1.8"/><circle cx="825.45" cy="359.21" r="1.8"/><circle cx="831.40" cy="362.37" r="1.8"/><circle cx="837.36" cy="373.42" r="1.8"/><circle cx="843.31" cy="386.06" r="1.8"/><circle cx="849.26" cy="388.42" r="1.8"/><circle cx="855.21" cy="393.95" r="1.8"/><circle cx="861.17" cy="397.11" r="1.8"/><circle cx="867.12" cy="399.48" r="1.8"/><circle cx="873.07" cy="400.27" r="1.8"/><circle cx="879.02" cy="403.43" r="1.8"/><circle cx="884.98" cy="382.90" r="1.8"/><circle cx="890.93" cy="370.27" r="1.8"/><circle cx="896.88" cy="375.00" r="1.8"/><circle cx="902.83" cy="375.71" r="1.8"/><circle cx="908.79" cy="374.61" r="1.8"/><circle cx="914.74" cy="375.31" r="1.8"/><circle cx="920.69" cy="376.24" r="1.8"/><circle cx="926.64" cy="384.09" r="1.8"/><circle cx="932.60" cy="362.71" r="1.8"/><circle cx="938.55" cy="373.85" r="1.8"/><circle cx="944.50" cy="360.26" r="1.8"/><circle cx="950.45" cy="381.61" r="1.8"/><circle cx="956.40" cy="374.36" r="1.8"/><circle cx="962.36" cy="375.69" r="1.8"/><circle cx="968.31" cy="368.33" r="1.8"/><circle cx="974.26" cy="357.09" r="1.8"/><circle cx="980.21" cy="371.81" r="1.8"/><circle cx="986.17" cy="373.30" r="1.8"/><circle cx="992.12" cy="374.12" r="1.8"/><circle cx="998.07" cy="374.93" r="1.8"/><circle cx="1004.02" cy="365.96" r="1.8"/><circle cx="1009.98" cy="351.57" r="1.8"/><circle cx="1015.93" cy="341.13" r="1.8"/><circle cx="1021.88" cy="338.67" r="1.8"/><circle cx="1027.83" cy="366.05" r="1.8"/><circle cx="1033.79" cy="351.32" r="1.8"/><circle cx="1039.74" cy="330.08" r="1.8"/><circle cx="1045.69" cy="351.57" r="1.8"/><circle cx="1051.64" cy="352.79" r="1.8"/><circle cx="1057.60" cy="357.09" r="1.8"/><circle cx="1063.55" cy="355.86" r="1.8"/></g>
<g fill="#ff0d0d"><circle cx="69.50" cy="368.95" r="1.8"/><circle cx="75.45" cy="367.37" r="1.8"/><circle cx="81.40" cy="357.90" r="1.8"/><circle cx="87.36" cy="373.21" r="1.8"/><circle cx="93.31" cy="369.74" r="1.8"/><circle cx="99.26" cy="364.69" r="1.8"/><circle cx="105.21" cy="361.06" r="1.8"/><circle cx="111.17" cy="356.79" r="1.8"/><circle cx="117.12" cy="342.90" r="1.8"/><circle cx="123.07" cy="363.42" r="1.8"/><circle cx="129.02" cy="380.48" r="1.8"/><circle cx="134.98" cy="383.16" r="1.8"/><circle cx="140.93" cy="383.95" r="1.8"/><circle cx="146.88" cy="392.64" r="1.8"/><circle cx="152.83" cy="386.32" r="1.8"/><circle cx="158.79" cy="387.90" r="1.8"/><circle cx="164.74" cy="382.06" r="1.8"/><circle cx="170.69" cy="356.32" r="1.8"/><circle cx="176.64" cy="356.32" r="1.8"/><circle cx="182.60" cy="352.37" r="1.8"/><circle cx="188.55" cy="361.85" r="1.8"/><circle cx="194.50" cy="369.74" r="1.8"/><circle cx="200.45" cy="374.48" r="1.8"/><circle cx="206.40" cy="380.79" r="1.8"/><circle cx="212.36" cy="383.07" r="1.8"/><circle cx="218.31" cy="385.70" r="1.8"/><circle cx="224.26" cy="385.26" r="1.8"/><circle cx="230.21" cy="385.70" r="1.8"/><circle cx="236.17" cy="378.25" r="1.8"/><circle cx="242.12" cy="369.04" r="1.8"/><circle cx="248.07" cy="325.53" r="1.8"/><circle cx="254.02" cy="233.33" r="1.8"/><circle cx="259.98" cy="107.54" r="1.8"/><circle cx="265.93" cy="370.82" r="1.8"/><circle cx="271.88" cy="373.28" r="1.8"/><circle cx="277.83" cy="381.32" r="1.8"/><circle cx="283.79" cy="381.32" r="1.8"/><circle cx="289.74" cy="381.32" r="1.8"/><circle cx="295.69" cy="383.07" r="1.8"/><circle cx="301.64" cy="386.58" r="1.8"/><circle cx="307.60" cy="377.81" r="1.8"/><circle cx="313.55" cy="336.44" r="1.8"/><circle cx="319.50" cy="287.32" r="1.8"/><circle cx="325.45" cy="150.53" r="1.8"/><circle cx="331.40" cy="353.63" r="1.8"/><circle cx="337.36" cy="361.58" r="1.8"/><circle cx="343.31" cy="369.04" r="1.8"/><circle cx="349.26" cy="374.74" r="1.8"/><circle cx="355.21" cy="382.76" r="1.8"/><circle cx="361.17" cy="378.42" r="1.8"/><circle cx="367.12" cy="379.21" r="1.8"/><circle cx="373.07" cy="378.42" r="1.8"/><circle cx="379.02" cy="378.42" r="1.8"/><circle cx="384.98" cy="372.90" r="1.8"/><circle cx="390.93" cy="335.88" r="1.8"/><circle cx="396.88" cy="326.23" r="1.8"/><circle cx="402.83" cy="347.72" r="1.8"/><circle cx="408.79" cy="336.75" r="1.8"/><circle cx="414.74" cy="354.74" r="1.8"/><circle cx="420.69" cy="354.74" r="1.8"/><circle cx="426.64" cy="363.42" r="1.8"/><circle cx="432.60" cy="368.95" r="1.8"/><circle cx="438.55" cy="372.11" r="1.8"/><circle cx="444.50" cy="367.15" r="1.8"/><circle cx="450.45" cy="353.82" r="1.8"/><circle cx="456.40" cy="324.74" r="1.8"/><circle cx="462.36" cy="242.89" r="1.8"/><circle cx="468.31" cy="256.05" r="1.8"/><circle cx="474.26" cy="317.72" r="1.8"/><circle cx="480.21" cy="336.14" r="1.8"/><circle cx="486.17" cy="371.23" r="1.8"/><circle cx="492.12" cy="376.59" r="1.8"/><circle cx="498.07" cy="375.79" r="1.8"/><circle cx="504.02" cy="373.42" r="1.8"/><circle cx="509.98" cy="370.27" r="1.8"/><circle cx="515.93" cy="371.84" r="1.8"/><circle cx="521.88" cy="371.84" r="1.8"/><circle cx="527.83" cy="365.00" r="1.8"/><circle cx="533.79" cy="289.82" r="1.8"/><circle cx="539.74" cy="315.53" r="1.8"/><circle cx="545.69" cy="272.28" r="1.8"/><circle cx="551.64" cy="348.72" r="1.8"/><circle cx="557.60" cy="377.24" r="1.8"/><circle cx="563.55" cy="371.05" r="1.8"/><circle cx="569.50" cy="363.03" r="1.8"/><circle cx="575.45" cy="363.03" r="1.8"/><circle cx="581.40" cy="374.21" r="1.8"/><circle cx="587.36" cy="363.16" r="1.8"/><circle cx="593.31" cy="333.95" r="1.8"/><circle cx="599.26" cy="356.84" r="1.8"/><circle cx="605.21" cy="359.21" r="1.8"/><circle cx="611.17" cy="346.58" r="1.8"/><circle cx="617.12" cy="349.74" r="1.8"/><circle cx="623.07" cy="357.63" r="1.8"/><circle cx="629.02" cy="363.11" r="1.8"/><circle cx="634.98" cy="367.71" r="1.8"/><circle cx="640.93" cy="361.70" r="1.8"/><circle cx="646.88" cy="368.33" r="1.8"/><circle cx="652.83" cy="365.56" r="1.8"/><circle cx="658.79" cy="368.94" r="1.8"/><circle cx="664.74" cy="372.90" r="1.8"/><circle cx="670.69" cy="364.21" r="1.8"/><circle cx="676.64" cy="361.85" r="1.8"/><circle cx="682.60" cy="354.74" r="1.8"/><circle cx="688.55" cy="349.21" r="1.8"/><circle cx="694.50" cy="363.42" r="1.8"/><circle cx="700.45" cy="368.16" r="1.8"/><circle cx="706.40" cy="354.74" r="1.8"/><circle cx="712.36" cy="372.90" r="1.8"/><circle cx="718.31" cy="374.48" r="1.8"/><circle cx="724.26" cy="380.79" r="1.8"/><circle cx="730.21" cy="358.69" r="1.8"/><circle cx="736.17" cy="349.21" r="1.8"/><circle cx="742.12" cy="62.37" r="1.8"/><circle cx="748.07" cy="153.95" r="1.8"/><circle cx="754.02" cy="190.00" r="1.8"/><circle cx="759.98" cy="266.31" r="1.8"/><circle cx="765.93" cy="329.86" r="1.8"/><circle cx="771.88" cy="328.28" r="1.8"/><circle cx="777.83" cy="360.27" r="1.8"/><circle cx="783.79" cy="374.74" r="1.8"/><circle cx="789.74" cy="369.48" r="1.8"/><circle cx="795.69" cy="376.90" r="1.8"/><circle cx="801.64" cy="381.00" r="1.8"/><circle cx="807.60" cy="379.42" r="1.8"/><circle cx="813.55" cy="364.74" r="1.8"/><circle cx="819.50" cy="323.21" r="1.8"/><circle cx="825.45" cy="315.31" r="1.8"/><circle cx="831.40" cy="354.16" r="1.8"/><circle cx="837.36" cy="372.16" r="1.8"/><circle cx="843.31" cy="383.21" r="1.8"/><circle cx="849.26" cy="387.95" r="1.8"/><circle cx="855.21" cy="390.48" r="1.8"/><circle cx="861.17" cy="392.69" r="1.8"/><circle cx="867.12" cy="395.21" r="1.8"/><circle cx="873.07" cy="395.21" r="1.8"/><circle cx="879.02" cy="393.64" r="1.8"/><circle cx="884.98" cy="365.84" r="1.8"/><circle cx="890.93" cy="344.69" r="1.8"/><circle cx="896.88" cy="358.42" r="1.8"/><circle cx="902.83" cy="351.00" r="1.8"/><circle cx="908.79" cy="366.32" r="1.8"/><circle cx="914.74" cy="364.74" r="1.8"/><circle cx="920.69" cy="368.69" r="1.8"/><circle cx="926.64" cy="362.13" r="1.8"/><circle cx="932.60" cy="311.31" r="1.8"/><circle cx="938.55" cy="339.05" r="1.8"/><circle cx="944.50" cy="331.70" r="1.8"/><circle cx="950.45" cy="347.20" r="1.8"/><circle cx="956.40" cy="334.15" r="1.8"/><circle cx="962.36" cy="316.21" r="1.8"/><circle cx="968.31" cy="361.88" r="1.8"/><circle cx="974.26" cy="352.10" r="1.8"/><circle cx="980.21" cy="369.23" r="1.8"/><circle cx="986.17" cy="369.23" r="1.8"/><circle cx="992.12" cy="370.04" r="1.8"/><circle cx="998.07" cy="373.30" r="1.8"/><circle cx="1004.02" cy="363.52" r="1.8"/><circle cx="1009.98" cy="346.65" r="1.8"/><circle cx="1015.93" cy="336.83" r="1.8"/><circle cx="1021.88" cy="334.38" r="1.8"/><circle cx="1027.83" cy="364.46" r="1.8"/><circle cx="1033.79" cy="348.13" r="1.8"/><circle cx="1039.74" cy="325.78" r="1.8"/><circle cx="1045.69" cy="348.50" r="1.8"/><circle cx="1051.64" cy="349.36" r="1.8"/><circle cx="1057.60" cy="354.88" r="1.8"/><circle cx="1063.55" cy="353.41" r="1.8"/></g>
<g fill="#cc0fb0"><circle cx="69.50" cy="387.69" r="1.8"/><circle cx="75.45" cy="377.90" r="1.8"/><circle cx="81.40" cy="376.32" r="1.8"/><circle cx="87.36" cy="381.37" r="1.8"/><circle cx="93.31" cy="384.21" r="1.8"/><circle cx="99.26" cy="385.32" r="1.8"/><circle cx="105.21" cy="382.95" r="1.8"/><circle cx="111.17" cy="376.32" r="1.8"/><circle cx="117.12" cy="375.06" r="1.8"/><circle cx="123.07" cy="386.90" r="1.8"/><circle cx="129.02" cy="385.32" r="1.8"/><circle cx="134.98" cy="385.79" r="1.8"/><circle cx="140.93" cy="384.53" r="1.8"/><circle cx="146.88" cy="375.85" r="1.8"/><circle cx="152.83" cy="382.95" r="1.8"/><circle cx="158.79" cy="378.21" r="1.8"/><circle cx="164.74" cy="367.16" r="1.8"/><circle cx="170.69" cy="351.37" r="1.8"/><circle cx="176.64" cy="361.63" r="1.8"/><circle cx="182.60" cy="352.95" r="1.8"/><circle cx="188.55" cy="349.00" r="1.8"/><circle cx="194.50" cy="352.95" r="1.8"/><circle cx="200.45" cy="371.90" r="1.8"/><circle cx="206.40" cy="376.64" r="1.8"/><circle cx="212.36" cy="384.82" r="1.8"/><circle cx="218.31" cy="387.63" r="1.8"/><circle cx="224.26" cy="391.84" r="1.8"/><circle cx="230.21" cy="388.33" r="1.8"/><circle cx="236.17" cy="388.77" r="1.8"/><circle cx="242.12" cy="382.19" r="1.8"/><circle cx="248.07" cy="358.95" r="1.8"/><circle cx="254.02" cy="350.00" r="1.8"/><circle cx="259.98" cy="142.63" r="1.8"/><circle cx="265.93" cy="377.25" r="1.8"/><circle cx="271.88" cy="379.44" r="1.8"/><circle cx="277.83" cy="380.75" r="1.8"/><circle cx="283.79" cy="376.05" r="1.8"/><circle cx="289.74" cy="376.05" r="1.8"/><circle cx="295.69" cy="362.89" r="1.8"/><circle cx="301.64" cy="373.42" r="1.8"/><circle cx="307.60" cy="355.88" r="1.8"/><circle cx="313.55" cy="334.33" r="1.8"/><circle cx="319.50" cy="294.00" r="1.8"/><circle cx="325.45" cy="167.19" r="1.8"/><circle cx="331.40" cy="355.32" r="1.8"/><circle cx="337.36" cy="363.21" r="1.8"/><circle cx="343.31" cy="370.67" r="1.8"/><circle cx="349.26" cy="371.54" r="1.8"/><circle cx="355.21" cy="386.71" r="1.8"/><circle cx="361.17" cy="382.37" r="1.8"/><circle cx="367.12" cy="382.37" r="1.8"/><circle cx="373.07" cy="382.37" r="1.8"/><circle cx="379.02" cy="382.37" r="1.8"/><circle cx="384.98" cy="378.42" r="1.8"/><circle cx="390.93" cy="369.74" r="1.8"/><circle cx="396.88" cy="350.79" r="1.8"/><circle cx="402.83" cy="367.37" r="1.8"/><circle cx="408.79" cy="376.84" r="1.8"/><circle cx="414.74" cy="370.53" r="1.8"/><circle cx="420.69" cy="376.05" r="1.8"/><circle cx="426.64" cy="373.69" r="1.8"/><circle cx="432.60" cy="374.48" r="1.8"/><circle cx="438.55" cy="368.95" r="1.8"/><circle cx="444.50" cy="364.61" r="1.8"/><circle cx="450.45" cy="345.22" r="1.8"/><circle cx="456.40" cy="295.48" r="1.8"/><circle cx="462.36" cy="225.79" r="1.8"/><circle cx="468.31" cy="249.47" r="1.8"/><circle cx="474.26" cy="302.81" r="1.8"/><circle cx="480.21" cy="325.61" r="1.8"/><circle cx="486.17" cy="362.46" r="1.8"/><circle cx="492.12" cy="386.05" r="1.8"/><circle cx="498.07" cy="378.16" r="1.8"/><circle cx="504.02" cy="379.74" r="1.8"/><circle cx="509.98" cy="378.95" r="1.8"/><circle cx="515.93" cy="385.27" r="1.8"/><circle cx="521.88" cy="384.48" r="1.8"/><circle cx="527.83" cy="382.90" r="1.8"/><circle cx="533.79" cy="379.74" r="1.8"/><circle cx="539.74" cy="348.82" r="1.8"/><circle cx="545.69" cy="359.08" r="1.8"/><circle cx="551.64" cy="381.98" r="1.8"/><circle cx="557.60" cy="380.53" r="1.8"/><circle cx="563.55" cy="376.58" r="1.8"/><circle cx="569.50" cy="377.37" r="1.8"/><circle cx="575.45" cy="384.48" r="1.8"/><circle cx="581.40" cy="382.11" r="1.8"/><circle cx="587.36" cy="382.11" r="1.8"/><circle cx="593.31" cy="386.06" r="1.8"/><circle cx="599.26" cy="377.37" r="1.8"/><circle cx="605.21" cy="378.95" r="1.8"/><circle cx="611.17" cy="376.58" r="1.8"/><circle cx="617.12" cy="378.95" r="1.8"/><circle cx="623.07" cy="375.79" r="1.8"/><circle cx="629.02" cy="369.48" r="1.8"/><circle cx="634.98" cy="375.79" r="1.8"/><circle cx="640.93" cy="378.69" r="1.8"/><circle cx="646.88" cy="380.79" r="1.8"/><circle cx="652.83" cy="380.00" r="1.8"/><circle cx="658.79" cy="380.79" r="1.8"/><circle cx="664.74" cy="382.37" r="1.8"/><circle cx="670.69" cy="379.21" r="1.8"/><circle cx="676.64" cy="374.48" r="1.8"/><circle cx="682.60" cy="372.11" r="1.8"/><circle cx="688.55" cy="375.27" r="1.8"/><circle cx="694.50" cy="384.74" r="1.8"/><circle cx="700.45" cy="388.69" r="1.8"/><circle cx="706.40" cy="390.27" r="1.8"/><circle cx="712.36" cy="391.53" r="1.8"/><circle cx="718.31" cy="391.53" r="1.8"/><circle cx="724.26" cy="389.48" r="1.8"/><circle cx="730.21" cy="388.69" r="1.8"/><circle cx="736.17" cy="390.27" r="1.8"/><circle cx="742.12" cy="391.06" r="1.8"/><circle cx="748.07" cy="379.21" r="1.8"/><circle cx="754.02" cy="368.16" r="1.8"/><circle cx="759.98" cy="365.79" r="1.8"/><circle cx="765.93" cy="355.53" r="1.8"/><circle cx="771.88" cy="348.42" r="1.8"/><circle cx="777.83" cy="376.06" r="1.8"/><circle cx="783.79" cy="381.85" r="1.8"/><circle cx="789.74" cy="382.90" r="1.8"/><circle cx="795.69" cy="383.69" r="1.8"/><circle cx="801.64" cy="388.42" r="1.8"/><circle cx="807.60" cy="387.64" r="1.8"/><circle cx="813.55" cy="375.79" r="1.8"/><circle cx="819.50" cy="348.95" r="1.8"/><circle cx="825.45" cy="348.95" r="1.8"/><circle cx="831.40" cy="362.37" r="1.8"/><circle cx="837.36" cy="396.32" r="1.8"/><circle cx="843.31" cy="389.21" r="1.8"/><circle cx="849.26" cy="392.37" r="1.8"/><circle cx="855.21" cy="394.74" r="1.8"/><circle cx="861.17" cy="394.74" r="1.8"/><circle cx="867.12" cy="395.53" r="1.8"/><circle cx="873.07" cy="396.32" r="1.8"/><circle cx="879.02" cy="396.32" r="1.8"/><circle cx="884.98" cy="385.27" r="1.8"/><circle cx="890.93" cy="362.37" r="1.8"/><circle cx="896.88" cy="367.90" r="1.8"/><circle cx="902.83" cy="366.37" r="1.8"/><circle cx="908.79" cy="372.68" r="1.8"/><circle cx="914.74" cy="372.99" r="1.8"/><circle cx="920.69" cy="375.72" r="1.8"/><circle cx="926.64" cy="377.14" r="1.8"/><circle cx="932.60" cy="374.87" r="1.8"/><circle cx="938.55" cy="376.71" r="1.8"/><circle cx="944.50" cy="369.76" r="1.8"/><circle cx="950.45" cy="371.40" r="1.8"/><circle cx="956.40" cy="366.19" r="1.8"/><circle cx="962.36" cy="360.98" r="1.8"/><circle cx="968.31" cy="365.06" r="1.8"/><circle cx="974.26" cy="353.42" r="1.8"/><circle cx="980.21" cy="373.30" r="1.8"/><circle cx="986.17" cy="374.12" r="1.8"/><circle cx="992.12" cy="374.93" r="1.8"/><circle cx="998.07" cy="376.57" r="1.8"/><circle cx="1004.02" cy="369.23" r="1.8"/><circle cx="1009.98" cy="354.02" r="1.8"/><circle cx="1015.93" cy="342.97" r="1.8"/><circle cx="1021.88" cy="339.90" r="1.8"/><circle cx="1027.83" cy="366.54" r="1.8"/><circle cx="1033.79" cy="352.18" r="1.8"/><circle cx="1039.74" cy="332.54" r="1.8"/><circle cx="1045.69" cy="353.41" r="1.8"/><circle cx="1051.64" cy="354.63" r="1.8"/><circle cx="1057.60" cy="358.93" r="1.8"/><circle cx="1063.55" cy="357.70" r="1.8"/></g>
<g fill="#ffff00"><circle cx="69.50" cy="355.21" r="1.8"/><circle cx="75.45" cy="361.06" r="1.8"/><circle cx="81.40" cy="343.21" r="1.8"/><circle cx="87.36" cy="367.06" r="1.8"/><circle cx="93.31" cy="357.58" r="1.8"/><circle cx="99.26" cy="345.74" r="1.8"/><circle cx="105.21" cy="341.95" r="1.8"/><circle cx="111.17" cy="342.58" r="1.8"/><circle cx="117.12" cy="316.84" r="1.8"/><circle cx="123.07" cy="343.37" r="1.8"/><circle cx="129.02" cy="365.48" r="1.8"/><circle cx="134.98" cy="371.32" r="1.8"/><circle cx="140.93" cy="379.21" r="1.8"/><circle cx="146.88" cy="391.06" r="1.8"/><circle cx="152.83" cy="368.95" r="1.8"/><circle cx="158.79" cy="382.06" r="1.8"/><circle cx="164.74" cy="378.11" r="1.8"/><circle cx="170.69" cy="349.69" r="1.8"/><circle cx="176.64" cy="352.37" r="1.8"/><circle cx="182.60" cy="347.95" r="1.8"/><circle cx="188.55" cy="360.58" r="1.8"/><circle cx="194.50" cy="372.58" r="1.8"/><circle cx="200.45" cy="372.90" r="1.8"/><circle cx="206.40" cy="376.85" r="1.8"/><circle cx="212.36" cy="375.38" r="1.8"/><circle cx="218.31" cy="376.93" r="1.8"/><circle cx="224.26" cy="378.25" r="1.8"/><circle cx="230.21" cy="380.00" r="1.8"/><circle cx="236.17" cy="369.04" r="1.8"/><circle cx="242.12" cy="359.39" r="1.8"/><circle cx="248.07" cy="320.00" r="1.8"/><circle cx="254.02" cy="216.67" r="1.8"/><circle cx="259.98" cy="103.16" r="1.8"/><circle cx="265.93" cy="370.79" r="1.8"/><circle cx="271.88" cy="374.74" r="1.8"/><circle cx="277.83" cy="380.88" r="1.8"/><circle cx="283.79" cy="382.89" r="1.8"/><circle cx="289.74" cy="383.25" r="1.8"/><circle cx="295.69" cy="383.95" r="1.8"/><circle cx="301.64" cy="387.89" r="1.8"/><circle cx="307.60" cy="380.88" r="1.8"/><circle cx="313.55" cy="337.02" r="1.8"/><circle cx="319.50" cy="285.00" r="1.8"/><circle cx="325.45" cy="149.65" r="1.8"/><circle cx="331.40" cy="353.95" r="1.8"/><circle cx="337.36" cy="363.45" r="1.8"/><circle cx="343.31" cy="370.53" r="1.8"/><circle cx="349.26" cy="377.33" r="1.8"/><circle cx="355.21" cy="381.23" r="1.8"/><circle cx="361.17" cy="373.21" r="1.8"/><circle cx="367.12" cy="378.42" r="1.8"/><circle cx="373.07" cy="377.63" r="1.8"/><circle cx="379.02" cy="377.63" r="1.8"/><circle cx="384.98" cy="372.11" r="1.8"/><circle cx="390.93" cy="332.81" r="1.8"/><circle cx="396.88" cy="324.04" r="1.8"/><circle cx="402.83" cy="347.72" r="1.8"/><circle cx="408.79" cy="332.37" r="1.8"/><circle cx="414.74" cy="352.98" r="1.8"/><circle cx="420.69" cy="353.42" r="1.8"/><circle cx="426.64" cy="362.63" r="1.8"/><circle cx="432.60" cy="369.74" r="1.8"/><circle cx="438.55" cy="372.90" r="1.8"/><circle cx="444.50" cy="369.21" r="1.8"/><circle cx="450.45" cy="350.13" r="1.8"/><circle cx="456.40" cy="327.37" r="1.8"/><circle cx="462.36" cy="248.95" r="1.8"/><circle cx="468.31" cy="260.00" r="1.8"/><circle cx="474.26" cy="322.98" r="1.8"/><circle cx="480.21" cy="339.65" r="1.8"/><circle cx="486.17" cy="373.86" r="1.8"/><circle cx="492.12" cy="378.31" r="1.8"/><circle cx="498.07" cy="377.37" r="1.8"/><circle cx="504.02" cy="375.00" r="1.8"/><circle cx="509.98" cy="370.27" r="1.8"/><circle cx="515.93" cy="376.58" r="1.8"/><circle cx="521.88" cy="382.90" r="1.8"/><circle cx="527.83" cy="368.16" r="1.8"/><circle cx="533.79" cy="295.96" r="1.8"/><circle cx="539.74" cy="322.63" r="1.8"/><circle cx="545.69" cy="268.33" r="1.8"/><circle cx="551.64" cy="348.03" r="1.8"/><circle cx="557.60" cy="382.37" r="1.8"/><circle cx="563.55" cy="382.37" r="1.8"/><circle cx="569.50" cy="372.63" r="1.8"/><circle cx="575.45" cy="372.50" r="1.8"/><circle cx="581.40" cy="383.69" r="1.8"/><circle cx="587.36" cy="377.37" r="1.8"/><circle cx="593.31" cy="338.68" r="1.8"/><circle cx="599.26" cy="361.58" r="1.8"/><circle cx="605.21" cy="360.00" r="1.8"/><circle cx="611.17" cy="343.42" r="1.8"/><circle cx="617.12" cy="345.79" r="1.8"/><circle cx="623.07" cy="358.42" r="1.8"/><circle cx="629.02" cy="367.90" r="1.8"/><circle cx="634.98" cy="368.63" r="1.8"/><circle cx="640.93" cy="361.27" r="1.8"/><circle cx="646.88" cy="368.63" r="1.8"/><circle cx="652.83" cy="366.79" r="1.8"/><circle cx="658.79" cy="369.86" r="1.8"/><circle cx="664.74" cy="373.69" r="1.8"/><circle cx="670.69" cy="365.79" r="1.8"/><circle cx="676.64" cy="362.63" r="1.8"/><circle cx="682.60" cy="356.32" r="1.8"/><circle cx="688.55" cy="350.00" r="1.8"/><circle cx="694.50" cy="364.21" r="1.8"/><circle cx="700.45" cy="368.16" r="1.8"/><circle cx="706.40" cy="353.16" r="1.8"/><circle cx="712.36" cy="370.53" r="1.8"/><circle cx="718.31" cy="375.27" r="1.8"/><circle cx="724.26" cy="382.37" r="1.8"/><circle cx="730.21" cy="361.85" r="1.8"/><circle cx="736.17" cy="352.37" r="1.8"/><circle cx="742.12" cy="61.84" r="1.8"/><circle cx="748.07" cy="152.63" r="1.8"/><circle cx="754.02" cy="189.47" r="1.8"/><circle cx="759.98" cy="266.31" r="1.8"/><circle cx="765.93" cy="332.62" r="1.8"/><circle cx="771.88" cy="329.07" r="1.8"/><circle cx="777.83" cy="359.48" r="1.8"/><circle cx="783.79" cy="376.32" r="1.8"/><circle cx="789.74" cy="370.27" r="1.8"/><circle cx="795.69" cy="377.37" r="1.8"/><circle cx="801.64" cy="381.32" r="1.8"/><circle cx="807.60" cy="379.74" r="1.8"/><circle cx="813.55" cy="365.53" r="1.8"/><circle cx="819.50" cy="323.68" r="1.8"/><circle cx="825.45" cy="311.38" r="1.8"/><circle cx="831.40" cy="354.48" r="1.8"/><circle cx="837.36" cy="371.85" r="1.8"/><circle cx="843.31" cy="382.90" r="1.8"/><circle cx="849.26" cy="387.64" r="1.8"/><circle cx="855.21" cy="390.00" r="1.8"/><circle cx="861.17" cy="392.37" r="1.8"/><circle cx="867.12" cy="394.74" r="1.8"/><circle cx="873.07" cy="394.74" r="1.8"/><circle cx="879.02" cy="393.16" r="1.8"/><circle cx="884.98" cy="365.53" r="1.8"/><circle cx="890.93" cy="344.21" r="1.8"/><circle cx="896.88" cy="358.42" r="1.8"/><circle cx="902.83" cy="350.53" r="1.8"/><circle cx="908.79" cy="366.32" r="1.8"/><circle cx="914.74" cy="364.74" r="1.8"/><circle cx="920.69" cy="368.55" r="1.8"/><circle cx="926.64" cy="362.13" r="1.8"/><circle cx="932.60" cy="306.42" r="1.8"/><circle cx="938.55" cy="334.97" r="1.8"/><circle cx="944.50" cy="329.26" r="1.8"/><circle cx="950.45" cy="347.20" r="1.8"/><circle cx="956.40" cy="333.34" r="1.8"/><circle cx="962.36" cy="310.50" r="1.8"/><circle cx="968.31" cy="361.07" r="1.8"/><circle cx="974.26" cy="351.28" r="1.8"/><circle cx="980.21" cy="368.41" r="1.8"/><circle cx="986.17" cy="368.41" r="1.8"/><circle cx="992.12" cy="369.23" r="1.8"/><circle cx="998.07" cy="372.49" r="1.8"/><circle cx="1004.02" cy="362.70" r="1.8"/><circle cx="1009.98" cy="344.20" r="1.8"/><circle cx="1015.93" cy="334.13" r="1.8"/><circle cx="1021.88" cy="332.17" r="1.8"/><circle cx="1027.83" cy="363.60" r="1.8"/><circle cx="1033.79" cy="347.27" r="1.8"/><circle cx="1039.74" cy="323.94" r="1.8"/><circle cx="1045.69" cy="346.65" r="1.8"/><circle cx="1051.64" cy="348.50" r="1.8"/><circle cx="1057.60" cy="354.02" r="1.8"/><circle cx="1063.55" cy="352.18" r="1.8"/></g>
<g fill="#000000"><circle cx="69.50" cy="413.95" r="1.8"/><circle cx="75.45" cy="394.21" r="1.8"/><circle cx="81.40" cy="395.79" r="1.8"/><circle cx="87.36" cy="386.63" r="1.8"/><circle cx="93.31" cy="402.90" r="1.8"/><circle cx="99.26" cy="420.27" r="1.8"/><circle cx="105.21" cy="416.00" r="1.8"/><circle cx="111.17" cy="373.69" r="1.8"/><circle cx="117.12" cy="386.32" r="1.8"/><circle cx="123.07" cy="415.53" r="1.8"/><circle cx="129.02" cy="425.00" r="1.8"/><circle cx="134.98" cy="431.32" r="1.8"/><circle cx="140.93" cy="444.74" r="1.8"/><circle cx="146.88" cy="462.90" r="1.8"/><circle cx="152.83" cy="451.85" r="1.8"/><circle cx="158.79" cy="456.58" r="1.8"/><circle cx="164.74" cy="463.69" r="1.8"/><circle cx="170.69" cy="420.27" r="1.8"/><circle cx="176.64" cy="332.16" r="1.8"/><circle cx="182.60" cy="395.79" r="1.8"/><circle cx="188.55" cy="409.21" r="1.8"/><circle cx="194.50" cy="417.90" r="1.8"/><circle cx="200.45" cy="425.00" r="1.8"/><circle cx="206.40" cy="433.69" r="1.8"/><circle cx="212.36" cy="439.37" r="1.8"/><circle cx="218.31" cy="448.69" r="1.8"/><circle cx="224.26" cy="428.16" r="1.8"/><circle cx="230.21" cy="427.69" r="1.8"/><circle cx="236.17" cy="422.63" r="1.8"/><circle cx="242.12" cy="410.00" r="1.8"/><circle cx="248.07" cy="380.00" r="1.8"/><circle cx="254.02" cy="285.00" r="1.8"/><circle cx="259.98" cy="140.00" r="1.8"/><circle cx="265.93" cy="376.49" r="1.8"/><circle cx="271.88" cy="381.32" r="1.8"/><circle cx="277.83" cy="393.42" r="1.8"/><circle cx="283.79" cy="407.63" r="1.8"/><circle cx="289.74" cy="416.32" r="1.8"/><circle cx="295.69" cy="422.95" r="1.8"/><circle cx="301.64" cy="421.05" r="1.8"/><circle cx="307.60" cy="423.90" r="1.8"/><circle cx="313.55" cy="380.44" r="1.8"/><circle cx="319.50" cy="298.33" r="1.8"/><circle cx="325.45" cy="170.70" r="1.8"/><circle cx="331.40" cy="358.54" r="1.8"/><circle cx="337.36" cy="403.69" r="1.8"/><circle cx="343.31" cy="388.33" r="1.8"/><circle cx="349.26" cy="398.42" r="1.8"/><circle cx="355.21" cy="393.51" r="1.8"/><circle cx="361.17" cy="399.74" r="1.8"/><circle cx="367.12" cy="387.11" r="1.8"/><circle cx="373.07" cy="385.53" r="1.8"/><circle cx="379.02" cy="385.53" r="1.8"/><circle cx="384.98" cy="387.90" r="1.8"/><circle cx="390.93" cy="383.95" r="1.8"/><circle cx="396.88" cy="373.69" r="1.8"/><circle cx="402.83" cy="379.21" r="1.8"/><circle cx="408.79" cy="363.42" r="1.8"/><circle cx="414.74" cy="357.90" r="1.8"/><circle cx="420.69" cy="357.11" r="1.8"/><circle cx="426.64" cy="363.42" r="1.8"/><circle cx="432.60" cy="371.32" r="1.8"/><circle cx="438.55" cy="385.53" r="1.8"/><circle cx="444.50" cy="391.06" r="1.8"/><circle cx="450.45" cy="385.84" r="1.8"/><circle cx="456.40" cy="386.32" r="1.8"/><circle cx="462.36" cy="379.21" r="1.8"/><circle cx="468.31" cy="387.90" r="1.8"/><circle cx="474.26" cy="402.90" r="1.8"/><circle cx="480.21" cy="405.27" r="1.8"/><circle cx="486.17" cy="412.90" r="1.8"/><circle cx="492.12" cy="402.24" r="1.8"/><circle cx="498.07" cy="392.76" r="1.8"/><circle cx="504.02" cy="388.84" r="1.8"/><circle cx="509.98" cy="444.21" r="1.8"/><circle cx="515.93" cy="393.68" r="1.8"/><circle cx="521.88" cy="493.68" r="1.8"/><circle cx="527.83" cy="422.11" r="1.8"/><circle cx="533.79" cy="372.37" r="1.8"/><circle cx="539.74" cy="375.53" r="1.8"/><circle cx="545.69" cy="320.74" r="1.8"/><circle cx="551.64" cy="354.21" r="1.8"/><circle cx="557.60" cy="384.74" r="1.8"/><circle cx="563.55" cy="384.74" r="1.8"/><circle cx="569.50" cy="392.64" r="1.8"/><circle cx="575.45" cy="387.11" r="1.8"/><circle cx="581.40" cy="381.32" r="1.8"/><circle cx="587.36" cy="378.95" r="1.8"/><circle cx="593.31" cy="376.58" r="1.8"/><circle cx="599.26" cy="371.84" r="1.8"/><circle cx="605.21" cy="365.53" r="1.8"/><circle cx="611.17" cy="353.69" r="1.8"/><circle cx="617.12" cy="358.42" r="1.8"/><circle cx="623.07" cy="363.16" r="1.8"/><circle cx="629.02" cy="369.48" r="1.8"/><circle cx="634.98" cy="370.17" r="1.8"/><circle cx="640.93" cy="370.17" r="1.8"/><circle cx="646.88" cy="370.48" r="1.8"/><circle cx="652.83" cy="360.65" r="1.8"/><circle cx="658.79" cy="364.64" r="1.8"/><circle cx="664.74" cy="376.31" r="1.8"/><circle cx="670.69" cy="368.16" r="1.8"/><circle cx="676.64" cy="365.00" r="1.8"/><circle cx="682.60" cy="357.90" r="1.8"/><circle cx="688.55" cy="342.11" r="1.8"/><circle cx="694.50" cy="315.26" r="1.8"/><circle cx="700.45" cy="343.69" r="1.8"/><circle cx="706.40" cy="317.32" r="1.8"/><circle cx="712.36" cy="341.32" r="1.8"/><circle cx="718.31" cy="346.37" r="1.8"/><circle cx="724.26" cy="374.48" r="1.8"/><circle cx="730.21" cy="384.74" r="1.8"/><circle cx="736.17" cy="381.58" r="1.8"/><circle cx="742.12" cy="63.16" r="1.8"/><circle cx="748.07" cy="171.58" r="1.8"/><circle cx="754.02" cy="207.89" r="1.8"/><circle cx="759.98" cy="274.20" r="1.8"/><circle cx="765.93" cy="343.28" r="1.8"/><circle cx="771.88" cy="336.44" r="1.8"/><circle cx="777.83" cy="371.32" r="1.8"/><circle cx="783.79" cy="378.69" r="1.8"/><circle cx="789.74" cy="375.00" r="1.8"/><circle cx="795.69" cy="379.74" r="1.8"/><circle cx="801.64" cy="390.79" r="1.8"/><circle cx="807.60" cy="390.79" r="1.8"/><circle cx="813.55" cy="388.42" r="1.8"/><circle cx="819.50" cy="375.00" r="1.8"/><circle cx="825.45" cy="367.90" r="1.8"/><circle cx="831.40" cy="356.84" r="1.8"/><circle cx="837.36" cy="352.90" r="1.8"/><circle cx="843.31" cy="360.79" r="1.8"/><circle cx="849.26" cy="379.74" r="1.8"/><circle cx="855.21" cy="387.64" r="1.8"/><circle cx="861.17" cy="375.00" r="1.8"/><circle cx="867.12" cy="383.69" r="1.8"/><circle cx="873.07" cy="382.11" r="1.8"/><circle cx="879.02" cy="375.00" r="1.8"/><circle cx="884.98" cy="379.74" r="1.8"/><circle cx="890.93" cy="381.32" r="1.8"/><circle cx="896.88" cy="374.21" r="1.8"/><circle cx="902.83" cy="373.30" r="1.8"/><circle cx="908.79" cy="374.00" r="1.8"/><circle cx="914.74" cy="378.52" r="1.8"/><circle cx="920.69" cy="378.00" r="1.8"/><circle cx="926.64" cy="390.58" r="1.8"/><circle cx="932.60" cy="374.36" r="1.8"/><circle cx="938.55" cy="383.61" r="1.8"/><circle cx="944.50" cy="357.81" r="1.8"/><circle cx="950.45" cy="387.30" r="1.8"/><circle cx="956.40" cy="377.47" r="1.8"/><circle cx="962.36" cy="390.37" r="1.8"/><circle cx="968.31" cy="380.54" r="1.8"/><circle cx="974.26" cy="374.26" r="1.8"/><circle cx="980.21" cy="377.12" r="1.8"/><circle cx="986.17" cy="374.93" r="1.8"/><circle cx="992.12" cy="375.75" r="1.8"/><circle cx="998.07" cy="378.20" r="1.8"/><circle cx="1004.02" cy="366.78" r="1.8"/><circle cx="1009.98" cy="349.11" r="1.8"/><circle cx="1015.93" cy="338.06" r="1.8"/><circle cx="1021.88" cy="336.22" r="1.8"/><circle cx="1027.83" cy="365.32" r="1.8"/><circle cx="1033.79" cy="350.34" r="1.8"/><circle cx="1039.74" cy="328.85" r="1.8"/><circle cx="1045.69" cy="349.72" r="1.8"/><circle cx="1051.64" cy="350.58" r="1.8"/><circle cx="1057.60" cy="356.48" r="1.8"/><circle cx="1063.55" cy="355.25" r="1.8"/></g>
<g fill="#b4d0ff"><circle cx="69.50" cy="388.69" r="1.8"/><circle cx="75.45" cy="378.90" r="1.8"/><circle cx="81.40" cy="377.32" r="1.8"/><circle cx="87.36" cy="382.37" r="1.8"/><circle cx="93.31" cy="385.21" r="1.8"/><circle cx="99.26" cy="386.32" r="1.8"/><circle cx="105.21" cy="383.95" r="1.8"/><circle cx="111.17" cy="377.32" r="1.8"/><circle cx="117.12" cy="376.06" r="1.8"/><circle cx="123.07" cy="387.90" r="1.8"/><circle cx="129.02" cy="386.32" r="1.8"/><circle cx="134.98" cy="386.79" r="1.8"/><circle cx="140.93" cy="385.53" r="1.8"/><circle cx="146.88" cy="376.85" r="1.8"/><circle cx="152.83" cy="383.95" r="1.8"/><circle cx="158.79" cy="379.21" r="1.8"/><circle cx="164.74" cy="368.16" r="1.8"/><circle cx="170.69" cy="352.37" r="1.8"/><circle cx="176.64" cy="362.63" r="1.8"/><circle cx="182.60" cy="353.95" r="1.8"/><circle cx="188.55" cy="350.00" r="1.8"/><circle cx="194.50" cy="353.95" r="1.8"/><circle cx="200.45" cy="372.90" r="1.8"/><circle cx="206.40" cy="377.64" r="1.8"/><circle cx="212.36" cy="383.16" r="1.8"/><circle cx="218.31" cy="387.46" r="1.8"/><circle cx="224.26" cy="390.96" r="1.8"/><circle cx="230.21" cy="387.89" r="1.8"/><circle cx="236.17" cy="388.33" r="1.8"/><circle cx="242.12" cy="382.89" r="1.8"/><circle cx="248.07" cy="359.82" r="1.8"/><circle cx="254.02" cy="343.33" r="1.8"/><circle cx="259.98" cy="145.79" r="1.8"/><circle cx="265.93" cy="378.25" r="1.8"/><circle cx="271.88" cy="380.44" r="1.8"/><circle cx="277.83" cy="381.75" r="1.8"/><circle cx="283.79" cy="374.08" r="1.8"/><circle cx="289.74" cy="373.86" r="1.8"/><circle cx="295.69" cy="358.51" r="1.8"/><circle cx="301.64" cy="369.47" r="1.8"/><circle cx="307.60" cy="352.40" r="1.8"/><circle cx="313.55" cy="336.44" r="1.8"/><circle cx="319.50" cy="297.14" r="1.8"/><circle cx="325.45" cy="161.93" r="1.8"/><circle cx="331.40" cy="356.32" r="1.8"/><circle cx="337.36" cy="364.21" r="1.8"/><circle cx="343.31" cy="371.67" r="1.8"/><circle cx="349.26" cy="372.54" r="1.8"/><circle cx="355.21" cy="383.99" r="1.8"/><circle cx="361.17" cy="380.79" r="1.8"/><circle cx="367.12" cy="380.79" r="1.8"/><circle cx="373.07" cy="380.79" r="1.8"/><circle cx="379.02" cy="380.79" r="1.8"/><circle cx="384.98" cy="376.84" r="1.8"/><circle cx="390.93" cy="367.37" r="1.8"/><circle cx="396.88" cy="349.96" r="1.8"/><circle cx="402.83" cy="364.21" r="1.8"/><circle cx="408.79" cy="372.11" r="1.8"/><circle cx="414.74" cy="368.16" r="1.8"/><circle cx="420.69" cy="372.90" r="1.8"/><circle cx="426.64" cy="370.53" r="1.8"/><circle cx="432.60" cy="371.67" r="1.8"/><circle cx="438.55" cy="365.88" r="1.8"/><circle cx="444.50" cy="358.73" r="1.8"/><circle cx="450.45" cy="328.47" r="1.8"/><circle cx="456.40" cy="305.44" r="1.8"/><circle cx="462.36" cy="220.00" r="1.8"/><circle cx="468.31" cy="242.89" r="1.8"/><circle cx="474.26" cy="298.42" r="1.8"/><circle cx="480.21" cy="322.98" r="1.8"/><circle cx="486.17" cy="358.95" r="1.8"/><circle cx="492.12" cy="381.87" r="1.8"/><circle cx="498.07" cy="376.05" r="1.8"/><circle cx="504.02" cy="378.95" r="1.8"/><circle cx="509.98" cy="378.16" r="1.8"/><circle cx="515.93" cy="388.42" r="1.8"/><circle cx="521.88" cy="388.11" r="1.8"/><circle cx="527.83" cy="386.06" r="1.8"/><circle cx="533.79" cy="383.69" r="1.8"/><circle cx="539.74" cy="360.27" r="1.8"/><circle cx="545.69" cy="368.95" r="1.8"/><circle cx="551.64" cy="400.93" r="1.8"/><circle cx="557.60" cy="385.53" r="1.8"/><circle cx="563.55" cy="378.82" r="1.8"/><circle cx="569.50" cy="377.37" r="1.8"/><circle cx="575.45" cy="380.53" r="1.8"/><circle cx="581.40" cy="377.37" r="1.8"/><circle cx="587.36" cy="376.58" r="1.8"/><circle cx="593.31" cy="380.53" r="1.8"/><circle cx="599.26" cy="376.58" r="1.8"/><circle cx="605.21" cy="377.37" r="1.8"/><circle cx="611.17" cy="373.42" r="1.8"/><circle cx="617.12" cy="376.58" r="1.8"/><circle cx="623.07" cy="374.21" r="1.8"/><circle cx="629.02" cy="367.71" r="1.8"/><circle cx="634.98" cy="372.93" r="1.8"/><circle cx="640.93" cy="377.84" r="1.8"/><circle cx="646.88" cy="380.00" r="1.8"/><circle cx="652.83" cy="378.42" r="1.8"/><circle cx="658.79" cy="380.00" r="1.8"/><circle cx="664.74" cy="380.79" r="1.8"/><circle cx="670.69" cy="376.85" r="1.8"/><circle cx="676.64" cy="372.90" r="1.8"/><circle cx="682.60" cy="369.74" r="1.8"/><circle cx="688.55" cy="371.32" r="1.8"/><circle cx="694.50" cy="374.48" r="1.8"/><circle cx="700.45" cy="383.16" r="1.8"/><circle cx="706.40" cy="382.37" r="1.8"/><circle cx="712.36" cy="384.74" r="1.8"/><circle cx="718.31" cy="385.53" r="1.8"/><circle cx="724.26" cy="387.11" r="1.8"/><circle cx="730.21" cy="387.11" r="1.8"/><circle cx="736.17" cy="387.11" r="1.8"/><circle cx="742.12" cy="374.48" r="1.8"/><circle cx="748.07" cy="368.95" r="1.8"/><circle cx="754.02" cy="360.27" r="1.8"/><circle cx="759.98" cy="361.85" r="1.8"/><circle cx="765.93" cy="353.95" r="1.8"/><circle cx="771.88" cy="347.63" r="1.8"/><circle cx="777.83" cy="368.16" r="1.8"/><circle cx="783.79" cy="379.08" r="1.8"/><circle cx="789.74" cy="382.11" r="1.8"/><circle cx="795.69" cy="382.90" r="1.8"/><circle cx="801.64" cy="387.64" r="1.8"/><circle cx="807.60" cy="383.69" r="1.8"/><circle cx="813.55" cy="372.63" r="1.8"/><circle cx="819.50" cy="351.32" r="1.8"/><circle cx="825.45" cy="350.53" r="1.8"/><circle cx="831.40" cy="363.95" r="1.8"/><circle cx="837.36" cy="393.16" r="1.8"/><circle cx="843.31" cy="382.90" r="1.8"/><circle cx="849.26" cy="391.58" r="1.8"/><circle cx="855.21" cy="392.37" r="1.8"/><circle cx="861.17" cy="388.42" r="1.8"/><circle cx="867.12" cy="393.16" r="1.8"/><circle cx="873.07" cy="393.95" r="1.8"/><circle cx="879.02" cy="395.53" r="1.8"/><circle cx="884.98" cy="382.90" r="1.8"/><circle cx="890.93" cy="360.79" r="1.8"/><circle cx="896.88" cy="369.48" r="1.8"/><circle cx="902.83" cy="367.37" r="1.8"/><circle cx="908.79" cy="373.60" r="1.8"/><circle cx="914.74" cy="374.31" r="1.8"/><circle cx="920.69" cy="376.46" r="1.8"/><circle cx="926.64" cy="378.35" r="1.8"/><circle cx="932.60" cy="376.71" r="1.8"/><circle cx="938.55" cy="378.45" r="1.8"/><circle cx="944.50" cy="379.57" r="1.8"/><circle cx="950.45" cy="376.00" r="1.8"/><circle cx="956.40" cy="374.67" r="1.8"/><circle cx="962.36" cy="364.76" r="1.8"/><circle cx="968.31" cy="365.88" r="1.8"/><circle cx="974.26" cy="354.64" r="1.8"/><circle cx="980.21" cy="373.95" r="1.8"/><circle cx="986.17" cy="374.67" r="1.8"/><circle cx="992.12" cy="375.14" r="1.8"/><circle cx="998.07" cy="376.40" r="1.8"/><circle cx="1004.02" cy="369.23" r="1.8"/><circle cx="1009.98" cy="355.86" r="1.8"/><circle cx="1015.93" cy="344.81" r="1.8"/><circle cx="1021.88" cy="342.36" r="1.8"/><circle cx="1027.83" cy="367.28" r="1.8"/><circle cx="1033.79" cy="352.79" r="1.8"/><circle cx="1039.74" cy="334.99" r="1.8"/><circle cx="1045.69" cy="354.63" r="1.8"/><circle cx="1051.64" cy="355.86" r="1.8"/><circle cx="1057.60" cy="360.16" r="1.8"/><circle cx="1063.55" cy="358.93" r="1.8"/></g>
</svg></body></html>
